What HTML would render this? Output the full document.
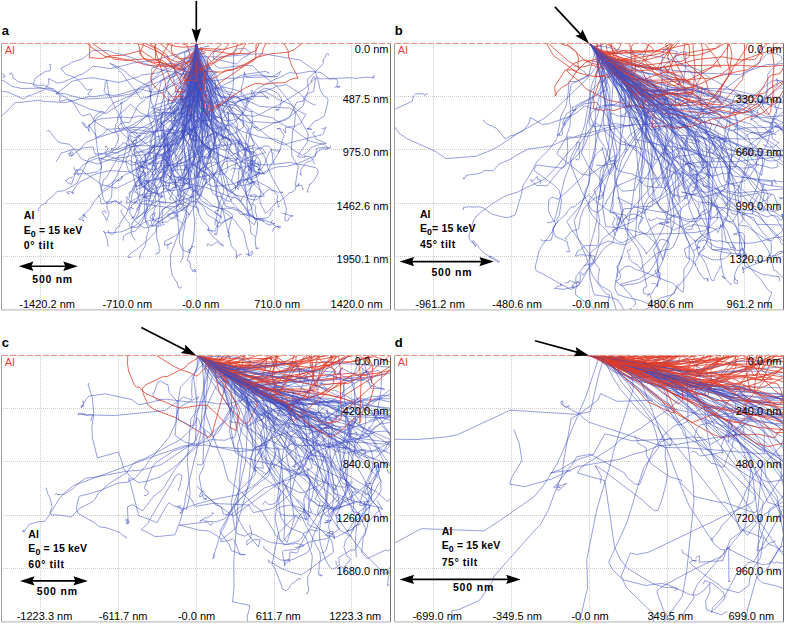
<!DOCTYPE html>
<html><head><meta charset="utf-8"><style>
html,body{margin:0;padding:0;background:#fff;overflow:hidden;}
svg{display:block;font-family:"Liberation Sans",sans-serif;}
</style></head><body>
<svg width="785" height="628" viewBox="0 0 785 628">
<clipPath id="cla"><rect x="1.5" y="43.5" width="389.0" height="266.3"/></clipPath>
<path d="M40.5,43.0V309.8M118.5,43.0V309.8M196.5,43.0V309.8M274.5,43.0V309.8M351.5,43.0V309.8M1.0,96.5H390.5M1.0,149.5H390.5M1.0,203.5H390.5M1.0,256.5H390.5" stroke="#cccccc" stroke-width="1" stroke-dasharray="1,1" fill="none"/>
<g clip-path="url(#cla)"><g transform="scale(0.1)" fill="none" stroke-linejoin="round"><path d="M1965 435l-3 68-49 298-58 170-72 99 8 62-2 18-4-2 2-7 49-8 34-23 75-139 44-53 83-123 70-60 27-12-16-4-51-28-14-22-7-39-26-60-36-41-12-53-5-4 23 8 17-11 32-5 4-7 13 9 0 6M1965 435l9 467 7 109-24 105-110 146-77 153-16 14-40 21-41 11 4 3-9 178-73 187-27 30 2 12-7 20-19 31-22 21-26 16-43 3-36 35-34 3-22 17-19 0 1 7 10 7M1965 435l0 157-5 44-63 194-60 124-101 111-26 14-132 23-59 39-72 33-79 77-50 30-190 47-176-110-53-79-69 22-24-17-87-136-49-12-72 17-5-4 10-43-23-36-9 11-8 1-3-6 12 1 1 5" stroke="#3f4fc0" stroke-width="5.5"/><path d="M1965 435l1 70-85 64 2 6-84 41-20 4-60-19-87-55-183-89-64-22" stroke="#e03c28" stroke-width="8"/><path d="M1965 435l0 23-22 118 2 118-25 417-26 170-1 24 9 63 108 228 255 304 35 19 36 13 10 14 34 19 26 45 7-1 4-26 27-26 35-53 38-34 29-41 2-12-18 10-74 23-53 5-23-8-2-29 10 6-1 7M1965 435l0 144 56 137 193 248 19 66 151 30 116 56 35 1 68 36 118 22 31 24 99 59 27 13 38 10 175 128 100 25 36 5 62 42-55-7-64 7-21 88-45 42-41 10-55 77 3 21-9 25 15 4 2 5-4-2M1965 435l0 164 11 60-7 96 19 219-9 119 22 58 15 25 20 329-33 116-15 200-5 25-18 57-40 14-32-55-35-34-13-5-148-98-25-118-22-51 27-26 3-43-24-43 18-4-5 13-23 17-15-5 11 10M1965 435l1 524 5 67 30 110 3 66-3 109-9 121-70 220-39 101-9 39-42 75-37 28-106 14-3-38 25-123 3-30 0-34-19-41-88-88-27-14-99-19-97-4-41 5-11-13 15-28 21-89-2 10-18 0-17 10M1965 435l0 56-21 200-35 136-12 70 32 87 127 136 12 2 23-7 96-47 130-88 23-26-4 20-39 26-15 4-73 51-27 23-54 63-66 53-13 54-1 15 32 94 45 81 39 33 62-57 32 42-16-6-74 2-25 14-23 22-19 62-10 13-14 10-66-9-19 8-3 5M1965 435l-7 364-17 69-75 182-41 227 26 302-11 196-1 193-10 99-98 60-39 16-155 116-79 20-20-1-29-19-68-60-35-57-13-13 6-25-1-30 16-1 12 17 9-6-6-1M1965 435l0 43-37 240-30 256-13 27-140 126-62 65-202 102-201 165-99 70-79-7-95 78 10 49-22 170 42 178 21 26 21 14 22-3 57-32 27 31 32-21-13 21-12 5M1965 435l0 114-15 109-12 135-17 135-30 121-116 88-64 63-181 138-124 101-63 59 4 41 55 178-4 214-35 90-47 32-4 23-26 23-117-82-19-3-58 4-21-5-1 8-10 7-25 10-24-2-6-22 5-22-28-38 7-4M1965 435l-54 221-14 32-113 192-36 113-15 10-24 35-1-8 32-24 73-37 94 115 76 56 13-2 49-30 0 9 27 40 2 46-141 10-43-10-40-36-67-8-90-35-95 5-31-7-21 2-5 5 3 0M1965 435l0 132 107 288 24 81 5 32 0 83-10 102-9 61-32 121-59 166-129 240-77 222-2-4 26-4 91 57 89 10 170 111 49 25 9 20-53-39-15-20 1-4 25-13 13 1 3 2-3 2-9-3" stroke="#3f4fc0" stroke-width="5.5"/><path d="M1965 435l0 95 53 219-42 85-42 127-211 8-16-12-37-52-15-51-5-41-108-350 28-28" stroke="#e03c28" stroke-width="8"/><path d="M1965 435l0 53-10 52-7 13-106 94-87 62-121 175 18 262-18 139-1 48 9 65 13 160 20 63 33 57 2 80-5 11 9 31 41 47 98 89 60 35 22 0 32 23 70 82 34 68 98 62 10 75-13 65-24-3 12-9-7 6" stroke="#3f4fc0" stroke-width="5.5"/><path d="M1965 435l-1 148-16 44-85 177-13 20-34 17-84-170-30-48-34-78-176-110" stroke="#e03c28" stroke-width="8"/><path d="M1965 435l-26 378-78 205-78 119-141 262-44 66-42 36-53 32-47 12-142 16 5 128 79 336 7 10 260 38 37 12 44 42 1 20 9 17 30-5-7 5-10-5 1-16-22-15M1965 435l0 232-18 93-31 109-1 48 58 83 23 69 93 87 124 75 59 24 55 8 89 49 189 59 149 22 102 46 90 70 80 46 51-35 32-45 58-22 97-21-4 3-45-23-52-18-9-28-27-30 9-14 10-2 5 4M1965 435l0 46-32 91-15 103-22 74-40 53-48 110-4 51 18 242-1 102 41 346 0 59-2 19-20 47-29 175-31 105-64 25-38 31-60 61-141 35-45 21-83 80-44 12-53 24-17 14-6 45M1965 435l0 130 35 442-48 473-5 107-41 165-17 112-62 94-79 63-45 21-80 57-28 63-5 21-33 19-32 51-3 1-9-38 12-9 29-79-39 21-10 16-5 14 25 16M1965 435l0 104 58 370 2 93 25 207 67 94 149 77 36 25 14 18-23 69-24 108 9 86-28 54-89 1-191 34-81 20-102-24 0-7-13 17-7 3-13 28 0 62-28 42-13 40-17 24-3 11 24 13M1965 435l5 98 34 317-73 170-56 97-15 35-18 23-28 81-123 194-73 16-84-3-22 40-43 37-22 10 5 10 4 46-73 117 5 63 29 77 86 40 65-26 69-21 52 1 5-12 3 23" stroke="#3f4fc0" stroke-width="5.5"/><path d="M1965 435l0 43 44 15 303 45 186-6 64-26 29-71" stroke="#e03c28" stroke-width="8"/><path d="M1965 435l20 272-1 38-19 118-14 19-39 33-49 65-51 42-31 18-39 60-36 27-90 3-15 70 2 18 26 33 19 99-8 459 17 26 12 42 45 46 73 89 57 43 27 8 42-51 11-57 21-55 5-10 4-1-5-9M1965 435l0 101 122 398 27 203 9 200-18 48-80 168-62 111-3 35-25 97-88 52-21 8-19 1-24 0-241-74-17-53 15-26 25-6-10-121 2-22-20-98 17-34 15-23 45-19 7-27 68-23 8 5 29-1M1965 435l0 107 9 179 18 176-2 33-31 146-106 198-55 148-25 51-15 23-92 92-84 28-10 34-21 39-95 164-5 45-28 52 119 91 11 29-26 87 3 50 107 18 39-9 36-33 15-5 36 2 65 62M1965 435l0 55-48 326-90 118-18 12 21 78 86 103 35 33 45 29 19 26 33-2 83-23 41-19 87-76 15-19 35-25 87-41 87-28-24 74-55 102-47 36-48 12-41 3-16-2-97-47-29-50-10-121-52-40 41 79 7 21 15 6 0 6 10 15-42 49 1 21 7 6-7-17 6-9M1965 435l0 60-17 111-39 112-33 116-7 84 2 236-14 116-18 46-105 214-13 18-42 38-32-79-9-34-4-52 9-57-48 6-30-5-98-91-159 1-197 17-36-1-39 48-72 37-5-23-64-89-7-1 4-5-5 3M1965 435l0 22 11 30 4 279 50 25 51 15 98-1 83-22 80 0 245-35 119 20 73-4 28-50-78 51-265 12-22-59 1 23-16 97-11 31-7 82 27 23 8-1 79 24 27-43-30-55-7 31 5-1-8 15-2-4M1965 435l-18 174-24 69-12 22-8 32-12 85-4 177-31 242 2 48-26 69 22 50 73 83 94 260 35 71 0 15-30 79-142 253-31 35-40 99-44 51-128 67 5 11-1 24 49-8 14-15 10 0-45 26 5 10 1 27M1965 435l0 164-34 253-24 73-31 48-72 147-79 98-91 147-217 305-169 79-249 199-56 66-42 71-88 84-13 17-11 2 51 21-13-13 0-13 17-29 2-11-15 10 32 17 5 8M1965 435l-17 142 39 94 10 56 73 81 90 233 28 56 106 39 250 27 52-18 104-56 71-30 260-163 39-31 73-72 29-15 28 11 312-12 51 8 29-7 83-7 52 5 8-21 9 9-8 18-11 2M1965 435l1 405-39 68-12 34-19 6-45 29-113 49-27 4-155 56-67 50-38 36-143 85-92 40-284 96-71 31-70 74-72 61-28-2-3-26 6 8 10-10 1-12 5 37 16-1 4-21-11-12 2-17M1965 435l0 29 198 199 33 18 65-3 59-13 125-11 83 4 69 69 166 129 85 101 71 93 158 278 4 30-10 67-57 79-38 62 50 7 24-3 4-8-9-1 51 3 36 31-2 23 19 23M1965 435l1 169-61 207-55 276 14 36 31 227 83 397-3 31 6-44 84-43 49-32 42-15 304-167 87-25-37-88 2-21-7-17-23-32 27-11 20-19 10 13 23-4 17 4M1965 435l-7 124-77 57-25 24-18 66-36 76 43 426-27 92 6 40 137 222 180 192 56 84 29 26 116 75 49 22 45 4 70 28 44 7 15-4 128-106 19 14 34 4 38 17 11-6 16 5 18-3-6 4 6 8M1965 435l0 106-10 73 0 32 28 351 38 89 11 56 51 141 47 155 12 72-12 43-1 39-9 12-119 105-37 61 18-171 3-102-11-71-40-92-18-26-162-93-13-42-51-24-12 18-15 11M1965 435l-12 337 14 150 28 52 33 33 137 36 133 24 50 20 94 58 87 84 22 29 105 87 69 50 55 33 65 23 48-22 328-82 14-13 12-38 14-22-27 13-18 0" stroke="#3f4fc0" stroke-width="5.5"/><path d="M1965 435l-24 193-22 110-46-23-120-27-60-31-140-59-144-92-183 47-109 4-97 28-127-8 7-142" stroke="#e03c28" stroke-width="8"/><path d="M1965 435l3 24 167 315 20 46 1 138 64 241 8 48 83 79 77 104 18 50 27 27 9-7 103-23 80 8 30 42-151 42-151 74-42 14-81 42-68 28-51 13-15 2-68-28-54-44-13 0-14-12-21-8 0-10-28-11 18-2M1965 435l0 157 45 318-88 121-45 111 42 37 46 26 167 81 20 2 168-48 30-18 96-108 42-96 31-50 66-35 158-56 29-18 26 2 64-16 136 89 61 71 62 34 37 14M1965 435l-4 32-25 33-400 102-215 29-83 24-135 30-174-24-26 27-77 50-200 84-53 9-87-45 3 51-31 43-30 28-14 1-92 39-45 13-42 29-153-68-48-7-35-12-23 11M1965 435l-3 103-57 222-69 126-38 59-125 162-121 126-141 181-224 75-45 8-93 29-161 63-118 243-126 75-73 7-53 55-50 38-4 22-20 6-32 19-19 20-13 39M1965 435l0 99-32 54-101 285-4 14 2 29-13 31 105-156 13 12 5 51 11 32-5 13-67 81-61 17-56 41-39 50 3 7 13 19 10 0 32-39-12-14-3 8 6 24-18 10 1 28-10-4-21 9M1965 435l-1 149-51 206-21 405-22 86-52 116-32 35-28 43-35 34-71 22-159 63-183 125-209-13-160 39-151 81-72 97 20 15-7 0 0-13-38-9-24 4 2 12 25 5M1965 435l-9 132 248 2 310-27 118-4 356 60 18 8 97 64 50 46 33 109 13 64 29 60 48 35 5 22-35 149-62 45-26 5-21 14-58 72-3 1 1-6 41 7-45-5-3-8 6 1-1 6M1965 435l-17 70-140 108-27 15-199 22-66 37 3 69-16 238-8 73-16 77 40 119 31 128 13 29-35 53-41 80-21 30-49 46-60 0-34-7-22-15-72 13-109-19-60 0-40-9-12-9-19 11 3 10M1965 435l0 92-9 164-31 294-37 127-52 232-19 42-27-6-15-18-64-42-76-71-77-54-147-64-105-88-125 114-8 58-3 15-13 14-7 47 5 23 27 44 1 38-30 75-23 13-21 2 16 12M1965 435l0 146-94 207-64 224-246 157-57 80-126 112-40 50-20 43-40 112-16 9-3 52 24 71 14 25 34 23 123 63 49 13 50 27 26 46-12 25-7 6-151 22-49 38-32 18-11 13-53 15 6-42 8-10-9-11-15 1" stroke="#3f4fc0" stroke-width="5.5"/><path d="M1965 435l1 78-3-29 6-49M1965 435l0 50 18 91 8 88-13 44 176 12 82 0 36-13 42-4 49-26 112-48 147-89 11-53 25-52" stroke="#e03c28" stroke-width="8"/><path d="M1965 435l0 80-62 276 21 81 14 20 2 27 33 32-60 41-58 32-103 208-77 118-100 190-73 53-116 41-71 19-47-29-51-20-155-48-5-17 2-29 24-23-26-29-3 15-4-3M1965 435l0 245-8 40-123 327-10 45-7 77-99 222-83 137-10 28 34 51 11 53-13 48-41 55-5 18 3 36 45 63 35 61 64 85 34 37 11 23 6 5 25 3 8-21 10 6 19-21-11 38" stroke="#3f4fc0" stroke-width="5.5"/><path d="M1965 435l0 140 18 91 1 82 12 33 18 21 4 17 26 32 28-109 4-134 7-31 37-50 101-92" stroke="#e03c28" stroke-width="8"/><path d="M1965 435l4 374-7 36 1 21 69 171 99 270 16 71-4 75 2 103 21 44 12 58 28 48 129 128 50 63-5-10 18-34 36-119 10-51 69-33 7 0 4 8-32 43-32 28-2 26M1965 435l0 158 9 247 7 75 69 92 16 45-1 47 8 38 19 48 88 74 71 26-70 44-32 1-53 26-39-43-80-66-70-121 19 115 37 50 14 38 13 11-8 29 5 25M1965 435l1 107 48 118 202 280 53 44 85 217 24 43-14 71 5 16 74 159 34 90 75 47 14 18 110 5 228-27 86 23 44 3 123 28 23 21-1 39-38 65-33 39-12-1-3 23-21 49 6 10-3 2 10-10M1965 435l0 145 58 153-24 203-5 108 8 53-1 25 28 78 103 127 56 29 220 85 25 17-33-69-15 41 28 15 30 30 87 51 5 0 32-32 82-35 43 5 23 26-1 35 20 9-13 4 10 75 8 11-4 0 0 9 7 5M1965 435l0 37-19 55-45 62-86 176-34 43-98 72-42 43-100 24-133 40-65-95-70-85-51-72-34-31-7-14-83-59 15 9 41 15 105 63 21 28 104 65 111 54 8 57-14-33-22-30M1965 435l4 68 51 228-7 159-26 86-14 107 12 108-19 30-86 197 12 121 2 132 37 259 4 201 14 83-14 193-48 145-13 54 24 8 7 60 11 20 35 21 1 7 5-2-4-20-6-10-12 20-16 8M1965 435l-13 120-29 143-5 64-19 95-27 310-28 26-117 189-46 170-49 81-127-2-68 69-85 170-31 73-6 51-41 117-13 32-53 76-9 18 0 25-32 16-24 53-18 11-28-3-12-14-3-14 9-13M1965 435l2 161 41 46 124 188 47 57 84 51 45 8 109 46 86 27 97 46 297 16 39 21 20 30-13 136-16 33-11 160 2 97 64 107-29 191 7 5 53-7 22 37-11 2-5-6M1965 435l1 78 35 364 22 109 73 155 253 222 92 116 59 52 38 15 13 17 14 9-3 14-25 37-50 47-1 36 9-44 42-108-9-12 3-11 6 2 2-3-1-14-14-49 2-10 17-5 0-4M1965 435l0 36-111 185-59 62-103 78-32 115-38 112-60 243-29 351-10 48 0 98 64 209 13 68-7 132-11 50 1 37-18 24-7 29-33 41-71 68-87 73-61 39-23 26-1 16 26-4-2 8M1965 435l-1 367 49 209 6 74 47 70 53 60 47 42 34 51 16-25-3-4 16 11 46 7 20 8-2-23-12-33 5-18-8-116 13 82-40 98-32 94-26 10-1 7-3-20 2-11 4 0M1965 435l-13 129 36 119 30 125-9 115 48 261 14 34 6 142-8 16-98 120-232 147-30 11-26-11-29 12-42-2-35 36-47 3-29 1-113-35-10 20-13 12 33 21 54 12 19 116-36 27 26-2 12 19 7 1-17 13M1965 435l37 179 148 416 15 30 76 196 112 179 6 53 36 106 29 106 11 71 1 71 31 118 46 104 10 63 17 49 9 17 19 13 7 10 0 53-14 85-7 22-1 54 11 62-4-9 7-3 25 3M1965 435l6 241 32 118 16 97 11 117-2 58-39 356 10 107-11 94-6-6-5 2-96 80-116-2-48 14 22-14-3-38-17-14-36-61-19-18-50-11 4-13 3 2-19-7-51 21-17 0 3 7M1965 435l-6 96-14 89-18 64 11 89-6 45 4 80 15 71 7 116-10 61-9 254-28 88-26 194 0 61-3 25 20 98-45 86-53 79-92 105-18 16-131 84 4 138 10 42 8 15 8 43-5 11 11 20-11 25-9 3-1-4-8 1-1 10-16-1M1965 435l0 73 6 27-93 70-307 124-137 20-25 0-19 18-201 58-257-48-104 10-105 26-147 115-41-39-31-8-24 9-3-8-57 1-72-18-13-19 8-38 14-33 105-64 34 0 7-15 1-40-2-16-7 5M1965 435l0 55-18 226 16 30 59 77 20 34 42 40 90 53 68 29 118-1 44-10 90-31 151-22 90 47 28 23 156 64 60 58 79 37-53 89-69 35-34-2-48 10 3 52-7-3-5-12-14-16 2-8M1965 435l2 190 26 275 20 117 345 3 73-24 48-5 25-15 57-77 16-12 173-95 54-19 61-35 28-11 40 1 39 8 129-23 109 12 88 68 18-5 50 4 13 24-9 27 2 25 12 12 13-14 5 0-17-2-41 10" stroke="#3f4fc0" stroke-width="5.5"/><path d="M1965 435l0 226 91 246 1 58 155-148 183-123 87-70 91-51 118-32 195-21 48-18 86-67" stroke="#e03c28" stroke-width="8"/><path d="M1965 435l16 115 24 51 113 188 1 8-18 166 23 196-44 179-46 162-11 19-212 114-70 6-92 30-42 27-69 56-12-22-58-56-69-113-9-24-29-29-56-131-6-23 38 20 13 1 56-17-22-4-4-10-14-8-13-22" stroke="#3f4fc0" stroke-width="5.5"/><path d="M1965 435l-8 272-25 238-3 68-16 109 2 37-176-317-24-31-64-150-27-21-8-14-62-36 2-75-5-40 6-40" stroke="#e03c28" stroke-width="8"/><path d="M1965 435l0 27 8 29 204 501 2 13 73 157 61 65 42 33 75 116 58 111 121 439-12 67 12 54 46 89 61-59 60-68 14 12 109-96 14 0 36-22 10-37 29-18-10-5 9 1 4-5-5-10M1965 435l-16 415-6 33-37 37-134 181-56 57-75 66-80 86-57 77-4 20 23 48-79 196-12 45 20 81-19 38-17 10-6 13-28 20-28 7 6-3-1-9-22 14 4 21-26 24-21 9-6 15 7 9M1965 435l0 27 68 145 119 231 65 179 27 109 28 79 68 94 50 82 1 20-10 57 3 61-27 112-11 71-29 99 4 25 31 30 5 38-79 59-15 36-39 65-28 161-37 66-1 27-4 4-81-13 13-14 10 15 14 7 12 17-2-9M1965 435l-2 130 26 185-63 137-33 104-19 123-16 54-20 147-15 181-2 87-23 55 19 94 23 46 40 48 41 63 162 127 29 34 48 22 100 29 61 43 8 14-15 27-33 143 6 2-2-8 18 17-13 20-11 9 2-5M1965 435l0 65-33 223-97 374-61 166-19 83-53 164-34 214 58 102 111 4 216 43 234 90 66 14 59 37 40 70 38 54 20 5 40 39 23 6 32-1 25 8 7 10-3 11M1965 435l20 336-7 68-43 125-164 33-107 11-70 30-17 1-68 37 78 21 30 16 9 11-17 67 10 90 17 47 29 42 8 27-3 64 17 14 4 21 10 9 5-7-7 17-5-10M1965 435l5 322 8 53 4 99-18 206 69 181-15 165-44 389-2 7-31 38-25 45-84 270-129 342 4 46-3 56 19 100 42 65 28 64 15-6 7-14M1965 435l0 194-20 65-14 73-50 196-128 284-26 23-48 39-169 102-104 40-85 18-91-45-14 25-128 92-104-5-32 8-23-75-103 11-33 22-23-2-22-11-138 42-25 55-22 23 7 10M1965 435l0 43 87 122 141 236 80 86 58 89 95 110 11 148-83 60-68 20-63 41 8-7 36-3 24 5 18 41 1 26-6 8-53 49-56-29-102 9-154-126-67-34 8 10 12 1M1965 435l0 229-21 99-7 53-3 135 20 294 5 181-20 48 0-3 88-7 54 19 45 25 29 35 9 16 5 24-11 12-71-43-8-10-19 1-7 8-1 12 1-4-11 6 0 65-6 3 1 5 83-9 27-12 18 15-2 2-6-3 8-12M1965 435l0 356 12 125-51 342-27 122 89 36 265 163 132 14-2-8-10-2-27 25-92 5-54 59-41 55-31 32-52 38-49 74-16 87-19-2-11-8-18-28-3-14 7-9-5 3M1965 435l4 235 10 63 23 70 26 55 53 163 50 193 36 54 139 71 105 105 25 34 18 41-3 36 30 93 23 52 65 25 48 7 11 0 62-40 22-49 46-66 44-76 18-91 22-53-37-61-15-13-20 6 25-5 11 4 2 6M1965 435l0 125 32 280-5 35 19 42 5 27 5 119 14 20 51 47 44 32 96 22 77-77 84-100 131-44 127 0 9 2-5 2 16 9 22 7-43-29-17-21-36-15-3 3 15-18 44-20 32 4 37 13 64 34 34 56 1 17-17 67-16 17-27 10 34 2-1-8M1965 435l-1 221-11 64 0 42 65 240 33 155 53 369-50 166-50 133-27 115 6 14 30 51 77 52 57 8 69 23 50-7 57 5 36 16 18 1 26 40 83 5 34 12 38 26 64 1 55-11 20-17 17-39 11-11-3-18-9 3M1965 435l5 121-120 132-93 46-60 18-88 52-1 28-71 291 69 333-82 219-16 29-91 60-63 25-185 93-47-7-52-18-55-8-44-38-134-90-22-28-66 10-13-35M1965 435l-26 171-16 72-27 56-106 156-94 188 11 21 14 154 24 96 30 89-160 25-267-8-33 10-263 107-33 10-46-1-76 30-66 39-81 91-35 102-24-8-37-28 5-8 11-1 24-20 25-1 4-11M1965 435l0 235 69 224 12 66 1 46-40 188-46 159 49 152 1 22 23 108 110 162 110 263 23 8 66 8 120 75 42 14 33 17 38 9 72 28 14 17 34 14 13 2 5-38 18-14M1965 435l-22 254 101 178 111 119 168 148 11 18 35 28 125 48 55-11 25 0 130 12 63-6 71-15 27-13 165-134 31-101 26-66-16-98 153-148 10-22-7-21 8 1 0-15 19-21 7-26 12-5 6-7 11 23" stroke="#3f4fc0" stroke-width="5.5"/><path d="M1965 435l-12 484-204-3 18-55 24-27 42-63 23-20 50-112-6-24 13-20-41-142-58-18M1965 435l0 30-142 7-72-9-103-28M1965 435l0 40 88 52-132 49-58 3-66 10-67-36-81-79-48-39" stroke="#e03c28" stroke-width="8"/><path d="M1965 435l4 197-77 142-6 41 27 322-1 82 15 81-4 47 28 84-37 63-37 22-212 238-25 18-21 10-53 8-68 22-107 47-21 4-24-30 1-5 57-49 30-35 14-7-10-4-2-11 5 4 5-4-4-1M1965 435l3 180-67 249-9 48 0 146 7 37-70 143 70 130 26 67 13 67-2 71-13 51-58 113-8 28 16 27-28-4-82 36-43 3-25 6-43-4-12-9 12-1 29-18 19-31 17-13 16 10 21-1 31 10 3 5-8 23 16-2 20-29M1965 435l0 277-12 67 2 41-13 116-5 320 27 136-22 142-2 75 8 192-4 45-4 7-18-15-31-38-32-242-64-103-40-34-38-25-43-16 15 58 6 52-47 84-40 47 0 23 26 72 19 39 15 12-8 15 6-5-10 3M1965 435l9 382 130 249 95 219 39 121 29 66 25 33 39 25 59 23 53 44 50 12 61-2-26 108 17 36 15 9 12-30 25-38 11-52-5-26-49-84-26-14-30 7-30-17-8-14 24-27 7-5 13 0M1965 435l0 292-15 212-27 108-93 23-42 34-135 55 15 23 78 67 28 17-33-28 15-78-70-116-5-124 68 93 76 38 21 41 43-39 12 16 11-3 12 6 7-7 6 2-2 9M1965 435l0 61 41 110 33 142 43 65 30 25 131 179 67 114 31 7 23 25 101 84 17 25 0 32-19 37 2 29-16 147-63 202 3 41-5 29 8 28 72 131 14 63 40 53-2 25-26 13-21 28 1 7 0-5-7 5M1965 435l3 192 20 52 12 64 19 422-7 88 15 264 1 80 3 32 26 67 10 144 34 8 19 14 98-4 104-17 217-77 40-30 62-82 34-93 33-62 31 2 41 13 14-15-1 23-8 4-4-9" stroke="#3f4fc0" stroke-width="5.5"/><path d="M1965 435l0 107-45 79-32 34-32 21-21-16-254 2-128-14-109-35-68-14-97-19-128-16-151-100-24-29M1965 435l0 115-67 66-242 47-115-28-100-47-40-63-8-58-15-32" stroke="#e03c28" stroke-width="8"/><path d="M1965 435l0 67-13 197 11 220 11 39-6 18 9 133-3 51-6 24-58 148-203-37-197 19-47-1-78-14-41-3-68 10 14 130 12 53 26 50 52 42-21 45 37 37 29 7 8 10-3-7-31-16 6-19 48 51M1965 435l-4 54-72 409-21 66-41 66-7 30-2 101-12 67-34 42-6 20-97 148-100 117-16 97 1 79 42 51 7-1 13-13-37 25-132 165-33 61-21 76-6 43-64 91-7 42-2 57 4 19 22 41 16 16M1965 435l0 227-10 184 16 110-27 49-76 93-71 94-19 31-15 37-54 35-128 223-36 77-100 66-44 13-43 42 7 49 124 101 52 31 30 40 38 29-3 2-17-7-18-22-6 0-12 13 12 8M1965 435l4 238-17 97-15 177 2 63-7 78-29 69-103-28-105 6-155 26-159 1-67 16-89-7-211 16-73 22-39 39-12-5-2 64 5 9-10-26-29-33-12-25-19-8-2 4 38 47 17-4 53-45 4-31 16-31 39-35 27-16 20 2M1965 435l-2 264-9 82 52 218 51 131 58 102 52 53 94 129 57 114 77 77 41 24 139 99 70 8 74-51 68-17 80-4 112-30 164-72 29-42 47-31 21-2 26 7 4-11 34-4-2 4 5-7-6-13 8-5M1965 435l0 137-36 178-45 159-13 104-42 188 0 94 73 299 17 29 81 72 115 85 193 128 73-61 111-66 16-27 19-138-59 182 24 43 34-20 14 0 33 22 9 0 5 6M1965 435l0 168 11 204 33 207-2 36 16 83 23 168 46 175 46 97 59 84 68 130 25 82 62 97 106 109 21 34 18 41 76 47 82 5 17 8 1 6 30 5 45 18-11-5-14 5 41 27 26 10 8 8 5-23-55 11-13 13-10 30M1965 435l-3 414-7 51-72 320-19 52-76 137-67 94-30 57-19 116-20 53-4-5 2 9-15-48 5-30-9-72 24-57 205-201 56-49 3 22-9 21 14 40 6 48 13 3 7-5 11 4M1965 435l-5 162 41 73 130 153 76 70 51 20 84 19 35 28 23 44 55 64 60 35 11 110-65 313-12 39 6 95-10 64-62 110-35 48 28-15-1-48 4-4 46-16 105-8 49-30 20-18-2-13-10-4-9 17-6-3" stroke="#3f4fc0" stroke-width="5.5"/><path d="M1965 435l-1 130-6 43-57 154 51 57 6 0 154-30 50-19 78-58 27-12 75-8 86-26 107-58 22-23 4-150" stroke="#e03c28" stroke-width="8"/><path d="M1965 435l33 298 29 165 25 56 39 62-49 117-187 172-79 57-44 41-182 140 8 7-14 52-6 5-1 43 18 36 41 39 24-6 18 9 46 28 70 57 39 63 20 111 10 20 79 47 47 18 18-2 11 7 9 42M1965 435l5 30 63 111 32 89 50 313-5 119 5 26 2 89 24 164-8 99-2 15-17 22-6 20-22 26-127 85-216 21-12-8-7 5 9-35 93-116-3-12 8-1M1965 435l0 188-24 161 84 221 7 57 16 29 1 15 0 148-23 71-11 11-22-29-10-26 9-14 12-10 65-138 31-125 63-115 59-14 14-15 106-54 60-40 75-16 174-26 11 1 24 16-1 3 4-10-3-5M1965 435l0 84-21 17-77 56-135 88-334 192-134 132-185 117-14 13-168-41-53-27-98-38-300-177-77 3-49-17-123-16-20-8-13-13-37-20 3-9-5-32-10-9-8 0-14 11 6 6 6-8M1965 435l0 83 9 41 32 83 23 110 5 52-6 93 3 142-35 145-39 69-135 138-335 257 11-5 16-19 71-40 20-6 32 2 62 91 44 89 14 46 0 60 8 13-25-9-37 42-47-29-24 14 4-4-6-2M1965 435l0 410-11 120 24 8 9 12 76 51 18 90-16 59-24 21-27 43-1 50-23 32-70 62 3 6 22 4 25-1 24-21 37-14 43 5 25-13 10-26 3 7 26 4 0-4M1965 435l0 75-11 39-8 68 136 62 68 55 17 33 103 275 129 156 59 80 72 124 31 36 81 121 28 70 7 41 47 110 93 167 23 51 24 93-14 84-1 28 23 7 10-4 9-26 14-15 28-7-29-1-55-20-22-2-10-6M1965 435l0 162-153 534-56 305-50 164-82 213-35 78-10 10-87 189-137 102 56-42 39-42 25-37 63-44 23-1-10-58-27-14-7-2-33 13-56 4-13 9-8-12-7-1" stroke="#3f4fc0" stroke-width="5.5"/><path d="M1965 435l0 62 5 38-41 133-79 111-8 3-96-89-120-88-25-10-76 4-71-10-208 15-108-14-67-53-146-102" stroke="#e03c28" stroke-width="8"/><path d="M1965 435l0 99-34 185-160 33-144 49-116 48-301 91-64 14-87-7-136 22-30-4-233 60-211-10-71-13-175 23-43-2-21 13-25 33-88 82-43 19M1965 435l0 36-146 53-70 53-347 343-24 5-230 99-29 20-69 79-88 59-11 27-4 57 30 253 38 161-36 37-109 20-123 2-11 5 30-46 7 31 13 14 2 10-11-7 2-6M1965 435l35 308 3 97-32 156-10 73 64 108 91 122 48 34 106 52 95 92 25 74 29 62 62 22 56 8 89 70 2 17 8 10 9-3-60 3-49 16-33 41 19 20-7 12-32 31-4-8M1965 435l2 98-7 109-19 182-66 299-12 102-32 78-204 263-11 69-98 161-77 66-70 31-28 29 7-3 64 36 67 30 25 5 1-19-9-22 18-23-36-15-90-107 3 21 6 9 31 0 0-16 6-5M1965 435l0 142 18 58 75 168 88 123 77 46 114 59 151 163 26 45 67 72 128-64 34-21 17 4 126-55 14-10 65-141 47-11 21 2 11-45 6-8 32-27 54-21 19-123-13-25-12 6-8 23-9 7-2 24M1965 435l-1 316 14 243-4 160-44 22-262 212-51 35-117 57-226 87-27 6-116 9-149 56-13 0-144-42-18-13-22-41-89-99-91-14-20-9-33-35-54-73-19-9-12 14" stroke="#3f4fc0" stroke-width="5.5"/><path d="M1965 435l-2 284-90 64-51 118-22 37-69 76-58-23-14-10-35-42-61-55-38-49-14-34-4-25 10-27 74-109 35-100 63-105M1965 435l0 30-39 186-55 140-1 75-39-162-158-60-69-17-121-11-39-28-37-37-10-19 43-97" stroke="#e03c28" stroke-width="8"/><path d="M1965 435l-4 41-45 138-87 196-322 147-44 30-81 64-87 175-60-4-11 14-7-4-11 4-28 33 43 62 151 134 83 85-5 22 29 135 3 92 9 62 10 0 31-57 37-23M1965 435l0 184 6 159 13 198 16 36-48 24-189 65-23 17-6 48 62 54 76 48 71 52 57 81 124 107 50 35 104 38 109 69 30 66 10 37 38 45 33 27 68-16 146 78 57 58 8 21-8 28 13 73 18-6M1965 435l0 85 20 43 4 82 16 47 18 78-4 49 14 97 53 229-16 13-79 87-134 109-23 23-22 4-292 100-103-77-164-137-24-39-143-288-18-141-20 40 3 21-11 55 26 25 35 16M1965 435l0 191-13 102 73 253-41 48-41-30-45-66-104-62-53-42-10-49 21-35-3-64-12-27 69-3 38 44 1 17 122 39 37 16 23-31 21-42 55-21 3 1-7 9-33 26-25 12-11 15-9 19-7 51-5 3 12 14" stroke="#3f4fc0" stroke-width="5.5"/><path d="M1965 435l-3 40-46 86 20 39-58 31-58 15-9-2-4 14 22 35 9 0-65-18-239-199-76-41" stroke="#e03c28" stroke-width="8"/><path d="M1965 435l-1 151 56 94 37 53 41 49 24 17 11 57 45 51 23 51 8 7 53 5 97-3 21 8 71 59 36-25-77-90-85-28-90-20-44 16-43-6-70 34-43 0-10 10-31-9-131-130-11-7-13 3 19-23-3-36-20-33 0-10 18 0 8 19 2-6-16 1M1965 435l0 225-73 595 10 89 19 71 2 34-12 65-77 216-20 67-15 74-40 129 27 295 11 48-5 44 3 38 25 64 13 15 67 23 1-25-14 7-3-13 38-17-5-12 21-4 8 7M1965 435l0 193-5 85 23 187 0 65-63 195-6 49 5 26-24 101-9 10-63-2-43 24-8 44-31 20-28 37 6 42 29 23 12 54 15 31-5 97 44 79 29 39 11 5 23-6 7-6 16-50-11-46-24-40-1-13-9-6-4 2 27 2 10-4M1965 435l28 312 128 260 10 112 11 223 24 124 36 274 6 10 30 166-54 155-19 104-17 68 27 24 22-1 38-54 92-43-50 32-66 30-36-12-11-24M1965 435l-7 122-126 412-42 85-24 61-41 158-47 108-1 79 14 68-58 175 3 223 23 105-54-8-122 92-20 24-7 59 37 56 107 7 14-3-1-8-15-17 7 8-9 2M1965 435l-4 127 4 46 17 103 22 46 2 18-13 83-44 188-41 102-44 89-90 115-56 84-28 55-1 44 16 107 9 22 82 335 19 48 33 40 21 36-43 260 1 52-5 9 9 32-1 90-14 37-13 17" stroke="#3f4fc0" stroke-width="5.5"/><path d="M1965 435l0 48 283 10 198-58" stroke="#e03c28" stroke-width="8"/><path d="M1965 435l-2 26-41 159-30 162 34 301 40 61 84 94 112 83 100 54 212 67 12 18 20 137 8 121 8 39-4 16 3 48-20 70 0 19-24 50-2 24-9 22 12 103 9 27 10 100 10 28-2 44 8 27 29 22 8 11M1965 435l-1 101 78 285 3 34-114 114-210 332-93 71-148 158-69 59-15 23 38 91-52 97-54 74-5 28-24 42-9 41-7 10 46 33 47-1 2 7 18 18-6 23-14 3-10 11 6 9 21 3M1965 435l0 51-48 234 24 55 40 133 133 337-172 36-72 35-37-6-27 18-83-2-97-22-175 31-165-14-49-37 1-4-28-43 2-84-8-33 10-36-3-59-9 11 21-13 2-6M1965 435l4 115-4 81 28 134-16 156-22 65-18 138-3 31 13 124-88 175-55 93-45 130-20 24-30 67 55 81-1 26-31 0-43 28-82 29-28 3-40-4-44-28-10-67-24-28-13-5-12-23 7-14 17-6 12-14 15-8 22-28M1965 435l-1 74-8 100-70 231-27 97-12 64 4 90-8 225 4 37-12 66-66 130-71 92-69 55-50 54-61 54-42 1-32 11 3 259-5 42 10 84 32 79 5 31-14 17-9 39-11 89-50 79-8 58M1965 435l2 298-6 5-16 238 7 57-1 33-34 155 60 139 69 97 44 41 7 14-14 19 4-11 17-6 39-24 93-34 50-6 34-12 64 2 62 58 67 22 13 67-2 19-39 31-6 8 2 15-59 10-54 22-40-12-8 4-3 12-9 1M1965 435l-48 358 24 214 14 54 26 160-69 205-12 25-14 60 3 53 21 68 26 59-91 70-3 12-27 12-14 14-19 10-1-18 9-14 28-23 84-157 48-66 94-83 77-48 37-40 9-15-1 23-19 7-22-2-45-25-7 12M1965 435l0 85-22 55-21 93 29 13 118 34-15 28 63 117 35 86 32 51-47 48-8 28-18 9 23 50 140 259 49 24 44 49 28 41 36 32 70 82 10 20 38 3 7-8 15 0 13 8 6 7 8 39-18 8 10-4 2-6 2 13-10 4-9-10M1965 435l0 227 45 239 25 260-21 332-14 76-22 52-23 187 1 210 5 42 46 118 17 29 58 53 3 48 48 64 29 21 74 66-35-15-33-26-38 33-25 3-13-11-16-4-5 13 1 10" stroke="#3f4fc0" stroke-width="5.5"/><path d="M1965 435l7 131 65 305 17 50 34 170 18 12 22 2 33-18 22-30 4-14 20-2-9 11-21 7-63 6-20-57-64-66-13-22-83-194-42-62-37-41-24-15-71-59-38-15-9-51 12-48" stroke="#e03c28" stroke-width="8"/><path d="M1965 435l0 120 7 71-30 151-183-56-87-8-53-12-135-54-67-22-76-41-116-38-73-12-67-28-156-2-93 77-32 16-89 27-35 25-74 35 53 60 65 21 39 19 67 65 13 23 28 28 43-5 3-6-3 14-30 28-5 12 19 10M1965 435l-4 139-7 29-52 114-30 91 10 81-18 63-109 120-26 49-173 188-56 41-112 61-67 61-41 51-53 26-38 6-116 206-22 31-15 2-25 105 9 16 49-51 82-61 48 1 16-13 0-25 7-7 4 13 4-1M1965 435l11 71 33 69 47 165 15 90-13 171-9 24-13 70-45 109-41 116 2 20 13 101 14 56-2 7 29 24 56 59 6 2 42-19-1-20-71-93-88-142-19-51-2-32 11-49-4-8-1-23-88 5-62 43-36 9-29-2-68 7M1965 435l0 16-32 6-88 69 4 34-12 75-17 46-213 133-49 49-34 27-22 66 9 57 32 85 42 157 61 104 80 269 17 31 14 57 83 77 95 73 18 6-33-6-34 19-17 0-57 21-9 10 106-46 21 9 1 20M1965 435l13 122 77 202 33 234 67 241 12 95-20 101-55 42-171 77-20 29-6 25-100 36-134 74-63 92 38 70 2 25-9 13-19 13 5 20 13 16-44 42-6-1-2 6 11 11" stroke="#3f4fc0" stroke-width="5.5"/><path d="M1965 435l0 12 52-12M1965 435l1 147-12 39-16 100 83-39 45-29 157-131 56-71 5-16" stroke="#e03c28" stroke-width="8"/><path d="M1965 435l-3 110-23 87-99 284-37 72-60 75-91 98-349 169-36 93 1 29-41 175-66 145-29 47-11 44-5 107-45 65-3 27 11 46 13 25-19 53 0 14-8 6-8-23-36-61 28-16 10 22 7 6M1965 435l-11 397-48 347-30 99-9 91-69 106-19 13-58 62-92 125-64 109-46 115-36 146-45 136-26 55-21 27-20 9-21 3-47-4-13-20 11-9-34-38-51-75-7-20 13-16 3 3M1965 435l0 29 17 97 69 209 58 147 34 182 71 89 68 127 8 30-37 234-82 226-12 146 57 123 9 11 87 364-1 8 46 47 6 15 2 61-3 6 17-34 34-7-1-7M1965 435l2 61 13 102 121 236 116 323-7 116 16 101-28 65-15 54 2 59-11 131-23 56-35 44-133 125-150 128-41 9-50 20-61 2-53 21 0 31-9 51 13 83 8-8-5 5" stroke="#3f4fc0" stroke-width="5.5"/><path d="M1965 435l0 67 10 44 69 190-3 113-14 115 19 90 13 94 28-20 35-37 322-207 94-45 55-5 39 9 103-13 102-3 17-4 46-26 59-17 21 2-18-46-44-76-33-96-4-57-31-54-16-18" stroke="#e03c28" stroke-width="8"/><path d="M1965 435l0 29 60 194 60 104 36 101 14 84 68 133 25 27 27-49 73-167 7-82-5-86 9-209 36-27 83 0 49 40-29 29-45 18-67 67-185-44-44-6-7-45 13-35 52-14 0 9 8-3-1-8M1965 435l-2 203-99 184-167 152-28 80-41 74-19 105-31 33-51 87-38 165 8 31 51 112-19-3-49-34-111-17-18 15 14 85 19 54 25 44 8 52 48 44 15 9 109 28 36 23-20 7 22-1 9-7M1965 435l0 123 9 128 17 63-4 28-73 125-164 199-116 107-30 51 18 123 19 33 15 1 16-18 48-37 72-46 103-22 43 29 33 30 119 137 20 13-54 134-53 63-28 43 46 45 41 4-9 2-4-40-22 9 1-8M1965 435l0 243 16 151-11 28 23 202 21 43 4 18 23 121 13 147 49 201 89 482 161 139 25 41 45 53 16 29 29 134 18 41-3 50 35-9 13-19-11-20-33 40-27-13-3 2" stroke="#3f4fc0" stroke-width="5.5"/><path d="M1965 435l7 239 11 22 7 5 17-20 145-66 42-36 92-29 111-15 17-33 47-67" stroke="#e03c28" stroke-width="8"/><path d="M1965 435l0 68-7 33-82 142-62 76-188 149-100 19-8 1-110-33-106 50-216 38-175 11-72 0-138-34-42-15-49-7-178-49-17-3-199 4-98-22-77-53-25-7-33-26M-17 777l40-10 26 5-2-20-26-16" stroke="#3f4fc0" stroke-width="5.5"/><path d="M1965 435l0 294 8 74-131 1 102-53 276-168 131-67 14-46 19-35" stroke="#e03c28" stroke-width="8"/><path d="M1965 435l7 267-3 58 15 257-11 134 5 18-47 211 45 138 21 96 27 34 24 112-46 156-2 43-5 18-11 15-5-5-21 10-165 118-73 79-39-40-1-18 7 9 6-1 138-43 13 2 42 25 1 10 6 4-23 7M1965 435l0 53 66 463 4 108 9 41 29 76 90 152 37 101 54 68 92 87 35 63 53 55 53 45 51 91 97 102 7 23-4 1-126 0-47-11-13-100 32-71 40-109 13-12 39 4 11-14 4-26-6-6-12 1 4-1M1965 435l-52 476 9 69-4 16-36 80-105 122-98 132-16 64-16 110-23 100-49 154-29 49-19 19-12 38-27 33-20 34-9 34 13 122-3 22-17 33-72 96-26 19-130 59-85 11-50-3-26 6-27-12 0-8 16 24 14 49 6 10 6 29-2 17 6 18-4 5 7-3M1965 435l-2 83 21 123 79 346 0 22 99 468 5 41 38 168 23 62 51 197 42 81 190 198 33 24 26-73-19-73 7-35-7-13-31-10 44-93-17-5-45 11 12-15M1965 435l-8 121 19 94 8 27 26 52 61 143 55 188 62 268-44 93-9 44-16 14-13 64-45 125-55 19 60 56 35 19-7 51 12 61 18 58 41 27 42 7 57 38 30 11 15-9 17-36M1965 435l-3 86-23 226-46 259-7 165-36 148-92 192-9 33 91 103 112 109 13 60 10 132-53 22-202 58-194-19-72-2-47 13-59 136-21 22-13 5 28-16 0 7-9 6" stroke="#3f4fc0" stroke-width="5.5"/></g></g>
<path d="M1.5,43.5V309.8" stroke="#a0a0a0" stroke-width="1"/>
<path d="M1.5,309.8H390.5" stroke="#c0c0c0" stroke-width="1.2"/>
<path d="M390.5,43.5V309.8" stroke="#707070" stroke-width="1"/>
<path d="M1.5,43.0H390.5" stroke="#dcdcdc" stroke-width="0.6"/>
<path d="M2.0,43.5H390.5" stroke="#e8907f" stroke-width="1" stroke-dasharray="6.2,2"/>
<text x="4.8" y="53.9" font-size="11" fill="#e8403a">Al</text>
<text x="388.5" y="52.7" font-size="11" text-anchor="end">0.0 nm</text>
<text x="388.5" y="103.3" font-size="11" text-anchor="end">487.5 nm</text>
<text x="388.5" y="156.3" font-size="11" text-anchor="end">975.0 nm</text>
<text x="388.5" y="210.3" font-size="11" text-anchor="end">1462.6 nm</text>
<text x="388.5" y="263.3" font-size="11" text-anchor="end">1950.1 nm</text>
<text x="19.3" y="307.6" font-size="11">-1420.2 nm</text>
<text x="102.6" y="307.6" font-size="11">-710.0 nm</text>
<text x="182.1" y="307.6" font-size="11">-0.0 nm</text>
<text x="254.2" y="307.6" font-size="11">710.0 nm</text>
<text x="330.6" y="307.6" font-size="11">1420.0 nm</text>
<clipPath id="clb"><rect x="394.5" y="43.5" width="389.0" height="266.3"/></clipPath>
<path d="M433.5,43.0V309.8M511.5,43.0V309.8M589.5,43.0V309.8M667.5,43.0V309.8M744.5,43.0V309.8M394.0,96.5H783.5M394.0,149.5H783.5M394.0,203.5H783.5M394.0,256.5H783.5" stroke="#cccccc" stroke-width="1" stroke-dasharray="1,1" fill="none"/>
<g clip-path="url(#clb)"><g transform="scale(0.1)" fill="none" stroke-linejoin="round"><path d="M5895 435l211 213 88 170 61 158 85 141 55 127 142 245 6 27 44 74 52 197 21 57 152 242-7 39-6 102 4 19 142 298-17 108-11 27-45 75-231 290-21 56-5 28M6564 3154l-6-46-17 5-3 11-22 21M5895 435l326 253 178 132 27 205 37 105-7 116 0 139 51 32 71 31 48 35 83 110 16 26 45 123 18 103 0 39-9 36 21 74-6 20-22-74-4-74 113-127 73-71-25-22-22-11-21 1-21-8-22 40-13 125 6 81 37 101-4 10-19 3 2-20-4 14-11 4M5895 435l290 286 47 73 195 167 165 215 172 178 10 18 35 36 44 35 54 62 127 81 25 40 24 19-65 44-12 23 9-1-42 32-1 49-14 79-56 120-10 40-54 31-78 84-92 56-54-13-14 3-35-16-14 15-26 7-8 11-12-7-19-2 10-11-11-9M5895 435l319 313 147 155 45 39 294 303 20 30 124 257 39 126 85 193 97 191 79 20 26 13-2 23 9 37-3 54-192 200-31 27 26 103 8 22 35 33 37 63 57 163 25 7 5-25 38-75 18-23-4-16 13-6" stroke="#3f4fc0" stroke-width="5.5"/><path d="M5895 435l74 74 88 73 82 79 46 61 118 181 166 150 20 2 116-16 144 9 50-5 75-16 253-42 38-37 116-180 39-214-13-74-19-32-17-13" stroke="#e03c28" stroke-width="8"/><path d="M5895 435l131 131 123 88 71 66 61 67 57 53 75 91 110 66 13 26 10 123 13 89-31 279-7 96-34 120-11 150 8 70 22 27 84 74 64 87 18 44 155 97 101 115 25 16 46 2 50-12 103 68 36 9 201 28 45-9 11-19-3-103 7-15-28-34-40 1-42 19-3 0 4-7 31 9M5895 435l62 62 36 20 221 168 102 45 107 169 112 60 254 155 145 53 58 61 44 58 203 315 38 114 4 169-8 40 2 239-20 51-61 67-6-4-88 49-55 17-81 60-66 59-56 27 22 84 44 17 56 66" stroke="#3f4fc0" stroke-width="5.5"/><path d="M5895 435l67 65 114 132-61-3-119-25-73-3-85 34-72 66 26 34 99 74 66 77 220 114 172 35 22 48 14-4 16-70-3-53 35-46 23-20-37-62-24-29-62-127-37-28-105-102-21-32-8-75" stroke="#e03c28" stroke-width="8"/><path d="M5895 435l65 65 143 164 236 228 198 174 111 79 261 161 603 363 103 85 6-17 5-168-17-39-65-78-53-27-32-23-43-40-15-5-64-45 20-28 16-58-25-64 9-16 22-21 1-8M5895 435l89 88-7 43 27 79 260 393 48 53 37 27 43 48 115 96 139 129 132 56 99 52 20 4 16-2 7-6 24 10 49 9 75 164 93 162 90 191 20 33 40 44 0 20 27 15 4-5-3 2 5 5 41-13M5895 435l53 53 166 140-24 67-115 244-16 19-191 107-187 292-21 43-71 97-96 94-32 38-57 113-78 119-9 72-64 215-57 24-44 4-128-33-89-62-36-13-68 3-51-4-23 8-19-6-8 21 7 0-6 6 6 2M5895 435l57 57 24 57 8 69-1 46-61 335-58 267-13 96-37 164 70 140 86 83 76 102-21 213 32 203 95 7 138 22 172 46 19 0 289-7 187-11 86-18 27-26 29-6 61 19 18 29-1 5 29-61 3-23-8 22 2 8 33-21" stroke="#3f4fc0" stroke-width="5.5"/><path d="M5895 435l97 97 73 100 132-25 217-67 64-75-16-30" stroke="#e03c28" stroke-width="8"/><path d="M5895 435l104 103 112 145-51 164-66 120-41 158 4 364-70 343-39 131-62 150-45 94 38 171 84 195 44 140 28 61 118 156 7 7 35 12-30 161-24 36M5895 435l24 24 55 101 29 81 35 319 80 417 33 201-15 106-38 60-4-3-74-269 10 14-55 43-15 16-53 92-19 46-67 84-59 60-95 92-63 48-20 28-29-15-33-8-33 24-6 100 12 39 40 74 10 4-60 15-19-7M5895 435l78 77 73 103 163 270 23 29 145 145 235 82 117-10 13 13 302-32 128 27 298 212 41 91 21 32 30-10 50-72 84-80 38 7-17-91 50-95-5-47-12-35 4-39 12-11-3-18 10-8-4 0M5895 435l166 185 68 133 78 110 16 37 86 9 23 28-19 57 3 51-21 117-2 89 22 105 24 30 9 7 235 52 182 27 364 106 72 10 104-39 78-7 116 88 49 54 95 254-18 80 11-13 20 2 50-49 1-13 9-6" stroke="#3f4fc0" stroke-width="5.5"/><path d="M5895 435l144 152 174 216 29 20 231 81 46 1 267 37 83-9-34-56-30-29-27-64-107-83-32-44 28 54 4 20 56-112 0-16 33-44 117-30 124-24 158-22 52-48" stroke="#e03c28" stroke-width="8"/><path d="M5895 435l101 101 6 12 62 344-8 124-25 150 9 102 31 150 22 78 5 35-4 68 33 14 12-12 21-38-12-10-74 56-51 65-20 35-7 121 10 71 31 46-85 34-38 28-68 67-15 21-3 22-22 53-21 118-69 25-52 55-15 10 14 12 0 8M5895 435l161 155 123 107 132 145 231 154 93 75 77 19 254 101 130-62 29-8 17 8 2 4-28-5-47 4-38 5-41 13-72 6-34-97-17-20-182-126-49-77-17-40-6 77-19 62-68-35-23-17-18-30-109-5 7-14 4 9 13 0 37-35-7-18M5895 435l21 21 78 236 77 205-285 144-38 25-24 7 3 29 24 3 11-16-99 105-47 95 10 50-4 9-7 4-26 0 9-20-26 26 25-119 11-75 55-110 19-127 8-114 62 3 32-8 105-49-9-9-31-16-4-5 6-7-50-30-20-14-11-15-19-2-12 5M5895 435l108 107 71 49 242 79 175 77 3 16 167 267 65 75 44 37 147 182 57 34 32 179 35 132 50 58 33 57 172-504 6-169 13-67 33-84 11-5 25 15 56 22 69 101 11 46-2 46-5 16-8 3 7-24M5895 435l260 259 52 44 163 370 35 52 22 21 3 34-21 314-54 257-24 181-54 301 2 108-89 275-9 18-33 211 29 66 92 29 136 30 50 22 52 16 109-67 93-24 34-14 3-19 23-63 23-20" stroke="#3f4fc0" stroke-width="5.5"/><path d="M5895 435l137 137 50 43 162 70 136 89 52 19 81 22 106 10 77 25 56 5 201-89 119-60 39-31 89-99 101-141" stroke="#e03c28" stroke-width="8"/><path d="M5895 435l84 137 44 109-14 89-1 263-39 142-57 102-85 119-106 198-75 190-75 327-26 89 10 47-41 82-99 134-23 43-40 163 7 33 15 13 34 14 302 167 68-38 18-22-14-24-18 8-43 38 3 11 14 9-7 1-3-10 4-18M5895 435l144 144 112 125 217 188 218 200 66 84 285 6 79-8 177 5 93-4 31 18 63 12 124 35 57 35 35 72 112 113 64 76 40 71 58 47M5895 435l104 97 210 139 34 14 121 33 338 44 206 69 178 73 32 20 49 39 267 130 438 231M7882 2144l-45 45-14-21 4-17 21-24 12 1M5895 435l90 90 210 413 26 40 131 141 158 57-16 41-6 54 12 9 19 38 6 27 57 36 104 144 34 79 158 260 14 51 29 70 152 304 6 23-11 39-21 23-24 11-35 31-16 33 5 0-4 30 9-7-1-5 7 16 9-2 3-14-32 22-34 13 8 11M5895 435l122 121 149 180 120 165 35 38 173 131 198 119 718 274 233 75 59 30 117 76 51 41M5895 435l257 256-24 174-41 595-78 368-4 68-18 103 32-21 100-319-70-183-54-82-90-225 9-42 51-42 79-34 203-1 65 13-8 26-46 47-33 16-28 8-25 0-36-22-36 4M5895 435l10 10 153 248 19 21 135 35 60 22 111 79 41 21 40 15 26 24 294 190 206 189 43 85 164 448 64 83 15 7 111 19 167-18 30 2 68-25 30 63-12 81-29 37-3 40-40-3-2-6 1-86 30-133 16-42-16 4-4 8-1 7 16 11-3 12M5895 435l34 34 69 56 198 195 101 58 36 35 163 122 200 228 60 38 93 78 78 92 142 81 187 165 40 47 36 147 18 116 13 122 10 44 17 213 12 248 173 211 25 18 70 105 37 34 13 1-40 100 5 29 40 41M5895 435l264 259 183 134 67 56 28 37 55 104-30 158-3 119-21 84-11 108-60-27-48-12-113-13-128-100-45-57-76-60-38 55-87 201-83 100-109 79-43 39-122 155-30 6-23-6-55 1-64-56 30 5 40-38 5 29 23 3 2 20 5 7-2 14M5895 435l73 73 74 42 357 242 365 94 248 215 35 15 86 71 31 17 9 10 272 171 23-31 40-27 204 0 10 32 0 27 62 40 7-5-48 47-58 4-29-12-22-17 1 5M5895 435l26 26 34 68 66 162 10 35 51 116 17 52-2 396 108 114 153 80 149 166 15 53 9 68-2 268-13 24-160 7-36 13-81 5-107 314-3 23-21 10-54 38-30 31-100 150-31 26-65 73-16-28-15 11 5 9 1 22-3 56-41 7-56-23-12 4-8 18-14-5-21 4M5895 435l153 153 110 61 72 37 230 96 212 77 59 19 78-7 54 16 330 69 473 211 127-6 80-15" stroke="#3f4fc0" stroke-width="5.5"/><path d="M5895 435l154 119 232 203 137 110 62 54 76 78 70 44 174 15 294-17 115 9 216-255 13-77 7-234-2-49" stroke="#e03c28" stroke-width="8"/><path d="M5895 435l169 169 134 148 83 123 66 166 112 83 126 126 24 52 137 241-43 138-12 92-41 102-32 55-5 32-41 65 24 41 21 23 11 3 73 59 94 30 67 29 99 5 29-13 13-16-24-87 12-26 0-32-14 2M5895 435l35 35 296 364 35 218 13 47 110 331 42 97-14 444 22 113 35 116 108 253 52 146-2-13 39-90 27-41-2-13-12-35-60-14-21 7-62 102 33 115 22 132 14 47-28 20 0 24-38 53-15 35-32 16-25 23M5895 435l399 402 89 30 276 177 141 78 55 53 154 189 109 45 56 28 55 66 53 48 64 116 53 38 58 52 70 108 176 221 79 63 46 25 97 80M5895 435l266 228 79 94 34 133 0 34 28 158 25 56 53 85 26 56 148 711 52 105 11 12 91 43 112 24 50 22 75-10 169 4 134-118 70-98 7-22 63-77 33-83 8-38 43-116 14-92 16-23-6-12-3 2 3 7 10-3 0-5" stroke="#3f4fc0" stroke-width="5.5"/><path d="M5895 435l31 31 87 56 137 68 172 51 83 42 28 47 53 126 123-32 209-16 162 60 56 25 25 20 83 36 89 105-109-98-34-37-11-28-7-38-26-69-181-156-19-28-9-55 0-30 12-80" stroke="#e03c28" stroke-width="8"/><path d="M5895 435l397 414 31 27 124 42 152 68 25 4 74-3 92 9 125 28 90 6 102 24 21 11 73 9 148 8 171 39 30 21 63 62 18 9 138 17 110 169M5895 435l338 336 280 129 80 8 57 1 322-26 221 4 96 6 102 19 255 64 153 47 42 8 5 5 15 46 4 49-20 30 25 108" stroke="#3f4fc0" stroke-width="5.5"/><path d="M5895 435l128 101 126 111 120 89 53-41-11-155-15-105M5895 435l64 64 110 43 362-22 106-18-9-15-50-52" stroke="#e03c28" stroke-width="8"/><path d="M5895 435l140 140 143 151 136 238 57 136 73 131 88 78 393 388 197 64 87-19 8-12 34 10 41-15 47 35 86 15 475 51M5895 435l67 67 51 77 8 27 50 62 24 51 146 199 13 32 4 162-67 404-30 66-17 205 6 35 61 82 20 8 120-11 45-88 47-175-1-135 4-10 66 52 41 52 16-2 26-14 7-7 12-29 17-18 53 11 87-48 77-9-1 12 9 0 5-3 2-10M5895 435l131 130 468 387 229 161 175 85 150 104 146 161 51 25 223 49 166 17 200 1 93-31M7881 1344l-99-77-144-192-18-46 95 24 141-57 13 0M5895 435l308 311 178 275 77 137 166 261 42 110 66 54 115 118 190 160 52 29 39 28 13 73 19 43 11 14 23 88 39 115 36 54 98 248 38-3 49 21 28 22 133 20 39-4 41-18 101-78 30 4 40 13M5895 435l63 53-78 291-334 319-104 86-253 144-222 147-77 36-134 52-295 23-109-73-275-123-81-52-79-111-18-44M3913 1057l32 38 178-84 11-51 20-19 70-4 11 2 9 14 16-7 1-7 12 1 2-4M5895 435l315 314 151 212 98 209 28 159 73 193 118 342 50 90-7 21 20 191-1 60-91 293-4 46-65 150-38 29-140 78-53 17-65 5-61 14-68-46 26-12 23-26-1-34-36-68 45-78 2-18 7-1 9 10M5895 435l177 169 274 316 78 113 194 433 59 276 3 88 22 130 108 222 52 195 30 58 0 177-54 87 1 172-11 53-104-93-330-129-27-2-69-41-50 8-71 62-3 46M5895 435l122 121 142 157 157 183 73 106 188 247 144 164 45 65 195 218 13 188 37 29 36 9 24 1 61-20 63-32 77-29 88-12 95-24 43-45 65-100 0-40 19-54-15-13-30-15-26-7 14-3M5895 435l140 134 180 222-1 141-16 122 12 104-12 378-6 66-43 143 56 332 25 114 33 120 48 79 73 102 37 102 0 35 47 239-32 13 2 4-6 20 5 27 36 12 24-4 16 48 3 63-4 12-40 24-119 36-5-3 29 19" stroke="#3f4fc0" stroke-width="5.5"/><path d="M5895 435l149 149-21-6-37 6-128 37-82 84-12 5-47-13-64 4-105 160 5 100 20-43 45-45 67-37 105-158-12-35 8-60-15-41-1-14-21-22-61-45-69-18-13-8" stroke="#e03c28" stroke-width="8"/><path d="M5895 435l82 82 146 9 71 13 143 50 212 103 103 62 142 100 45 47 65 25 143 81 14 36 285 209 113 56 133 40 39-2 63-42 19-79 88-82 149-125" stroke="#3f4fc0" stroke-width="5.5"/><path d="M5895 435l37 37 61 24 87 59 159 46 62 39 67 19 162-16 177-25 108-5 71-40 7-10 3-71-10-57" stroke="#e03c28" stroke-width="8"/><path d="M5895 435l109 109 91 80 217 121 74 26 142 74 111 116 205 301 150 114 59 5 160 0 224 11 154-8 150-48 176-120" stroke="#3f4fc0" stroke-width="5.5"/><path d="M5895 435l47 47 71 44 11 3 244-1 105-20 50 4 122-3 197-35 174-39M5895 435l67 67 11 100 30 188-71 194 9 40-8 58 96 22 53-9 58 11 95-35 88-18 35 4 137 31 39 54-11 134 68-17 105 12 62 13 64-12 119-42 380-516-25-22-25-88 5-141-5-28" stroke="#e03c28" stroke-width="8"/><path d="M5895 435l188 187 316 253 27 63 3 20 24 266 79 103 223 260 50 80 45 54 31 25 72 106 151 320 97 5 36 19 55 20 31 4 74-119 33-4 118 15 81 43 53 16 11-13 40-3 44 9 22 37 26-9 3-15-4-34-13 6 32 3M5895 435l183 183 175 104 157 65 163 79 43 27 57 113 46 278 7 298 68-19 100-12 76-15 104 113 14 9-51 23-64-21-60-49-87 54-62 52-57 41-41 20-97 3-51 12-85-14-25 2-88-40-126-29-15-17-4-7 3 0-13 0-25-61 21 41M5895 435l90 90 43 108-3 250 25 115 32 119-1 118 58 124 33 153-14 85-39 69-87 110-21 74-39 232-4 115-29 129-42 141 4 122-5 89 3 96 30 134 17 41 94 13 88 18 53 22 58 96 44 8 28-2-5-17 3-7-5 25 13-8 5 2 6 21 40-23 3 3 1-17M5895 435l15 15 65 95 55 55 458 135 280 71 135 42 103 39 333 54 116 13 234 74-17-11-22 9-100-11-162 36-16-2-235 24-107 23-276-8-181 17-112 23-50-20-52-28-68-20-5-6 18-6-4-4M5895 435l148 162 162 157 54 68 67 51 212 82 41 37 35 79 10 69-46 186 2 59-18 74-19 141-28 75-88-106-144-127-186-239-126-177-33-3-97 16-87 54-37 13-54 31-30 69-5 39 15 3 7-8-6-16 31-38 19-15 22-9M5895 435l58 58 47 262 34 149 5 73 15 89-27 131-53 170-79 338-7 121-6 30-26 40-15 79-30 72-144 168 67 110 153 204 72 115 37 44-14 79-2 59 41 40 45 23 34 24 11 13 19 77 9 14 32 112" stroke="#3f4fc0" stroke-width="5.5"/><path d="M5895 435l213 208 101 144 49 43 41 24 50 21 93 30 64 12 37 0 350-44 33 2-92-106-186-334" stroke="#e03c28" stroke-width="8"/><path d="M5895 435l133 129-18-90-2-36 19 201 14 62 59 347 81 16 110 7 106-24 18-85 163 14 9 8 125 231 9 57-2 53-13 25-59 178 0 40-20 74 3 29 136 70 70 137 14 15 57-46 56-30 25-20 59-17 37-63 22-60-3-13 22-67-1 4 12 8 7 19-14-6M5895 435l309 223 214 130 55 13 35 14 109 109 145 480 56 283 6 11-7 41-20 30-110 115-93 88-109 58-13 21-25 84-28-8-34-18-25 70-18 24-31 21-188 79 15 7 12 21-7 2 12 24M5895 435l232 231 189 222 128 73 126-47 195 26 359 211 24 19 127 162 43 175-6 124-28 150-44 107-60 70-89 162-98 41-106 70-149 70-14-3-17-21-76-34-21 1 0-8-10-3-5 3 3 2-4 5 21-12 13 2-1 14-1-8-5-2M5895 435l310 309 117 176 267 35 109-22 318 50 107 33 93 13-31 45 17 28 81 83-8 9 3 7-25 96-7 50 4 46-15-3-70 17-16 24 1 38-7 8 11 14-3 19-22 26-7-3 111-110 19-13 15 12 5-7-61-24-10 7" stroke="#3f4fc0" stroke-width="5.5"/><path d="M5895 435l52 51 71 61 83 92 50 60 78 117 39 46 150 211 43 42 207 130 72 35 37 0 143-18 203-70 151-25 224-59 99-62 160-155 50-38 58-89 7-24" stroke="#e03c28" stroke-width="8"/><path d="M5895 435l122 122-55 108-45 67-201 110-5 8-16 86 1 90 12 57-6 45 0 125-32 93 8 159-24 140-24 36-96-9-169-23-24 47 1 10 186 136 45 39 17 22 18 62 7 47-22 136-12 28-13 17 6 29-14 16-32 55 23 69 125 57 2 35 19 62-33 0-6 6" stroke="#3f4fc0" stroke-width="5.5"/><path d="M5895 435l191 190 134 157 81 116 35 42 132 80 80 41 90 31 291 25 97 18 44 3 69-19 201-101 73-26 238-65 75-63 28-17 19-4 108-63" stroke="#e03c28" stroke-width="8"/><path d="M5895 435l218 148 44 107 14 191 34 99 135 297 46 452 9 23 7 60-8 121 3 19-30 228-13 191-54 46-48 31-48-6-124-31-75 36-82 61-21 32-12 62-130 165-3 42 14 52-15 32 0 53 68 56 31 16 126 99 67-5 35 47" stroke="#3f4fc0" stroke-width="5.5"/><path d="M5895 435l54 52 89 60 404 317 115 75 213 123 67-25 48-24 39-87 24-174 0-103-16-153-2-61" stroke="#e03c28" stroke-width="8"/><path d="M5895 435l320 305 266 157 61 19 257 123 368 125 331 136 120 67 164 105 65 56 6 3 53-9M5895 435l53 48 85 98 61 131 135 242 115 178 76 175 208 265 61 69 105 104 97 185 33 51 54 40 104 4 44 8 125 84 28 28 41 53 14 11 25 56 44 123 46 207-7 32 9 36 179 83 59 4 12 6 90 11-1 11 6 10-4 27M5895 435l272 274 213 165 223 82 36 30 21 31-104 96-82 0-95 102-40 36-239 14-75 29-212 54-172 53-122 58-239 32-115 61-53 37-113 49-22 18-45 52-83-4-26 15-4 7-54 15-52 4-51 9-9 23-8 8-17 2 17-12M5895 435l102 102 86 93 72 107 192 150 25 34 41 29 50 13 287 181 87 21 54 42 131 83 108 41 47 29 51 43 106 68 28 32 49 9 46-31 201-159 188-104 67-46" stroke="#3f4fc0" stroke-width="5.5"/><path d="M5895 435l19 19 9 17 35 24 193 64 112 31 282 90 46 0 37-12 109-17 107 7 255-6 323 2 154 11 89 0 212-16" stroke="#e03c28" stroke-width="8"/><path d="M5895 435l260 259 87 119 131 120 226 148 63 37 271 87 76 64 100 98 99 53 57 50 85 46 295 69-2 37-33 81-38 162-42 102-19 21-9 20 24 48-3 36 8 30-9 17 1-8 9-8-3-27-15-17 18 6-13-16 1-4 63-111" stroke="#3f4fc0" stroke-width="5.5"/><path d="M5895 435l40 41 52-22 26 0 24-19M5895 435l25 25 37 17 136 51 569 248 236 125 141 120 66 14 51-26 37-32 11-34 1-28 19-57 105-175 131-199 5-25 11-24M5895 435l249 244 87 97-15 39 108-115 135-107 14-25 65-42 176-91" stroke="#e03c28" stroke-width="8"/><path d="M5895 435l801 798 178 141-52 107-105 155-23 10-11 10-189 232-202 234-95 141-170 124-41 82-33 106-59 95-86 154-31 38-144 31-78-9-12 4 20-18 49-14 6 4-2-12-16-3 8-2M5895 435l125 130 213 204 229 251 61 59 169 90 159 57-90 102-148 210-98 159-28 33-65 98-8 1-1-7-35-26 13 1 46 47 28 19 79 11 110 5 8-23 12-9 64-126-3-18 55 42 25-20 44 20 55 43 65 91-20-11-16 3 24 24-6 6-30 5-13 11-5-7M5895 435l136 129-1 16-23 72-78 164-15 45-68 393-50 142-51 65-81 85-74 95-144 153-152 68-121 60-99 29-59 30-100 62-144 112-34 45-45 145-3 36 26 40 26 15 13 16 3 14-37-53 18-5 59 78 51 49 124 83 13 3 8-5-84-53-15 0 10 19" stroke="#3f4fc0" stroke-width="5.5"/><path d="M5895 435l214 212 191 95 134 55 131-50 90-27 36 6 42-5 147-5 103 12 90-40 82-27 30 2 28 8-8-6-55-101-104-129" stroke="#e03c28" stroke-width="8"/><path d="M5895 435l109 109 199 228 102 84 371 265 16 31 73 199 247 15 16 12 29 61 22 214 7 504-2 96-4 32 33 158 2 44 17 11 109-3 38 4 32 34-65 53-72 13-55-2-132-63 57-47-9-13 5-5-3-14M5895 435l198 201 104 65 96 36 272 132 102 113 19 47 81 112 17 52 53 75 64 59 112 150 14 31 4 27 39 115 12 74 16 183 18 103-34 230 3 29-156-25-9 48-54 4-9-10-8-1 35-23 47-3 71-121 55-42-36 26" stroke="#3f4fc0" stroke-width="5.5"/><path d="M5895 435l50 47 187 127 197 170 123 82 11 17-16 174-10 15-41 13-1-5 53-64 85-48 33-13 206-15 126 8-247-133-112-83-30-49-53-55-25-51 5-19 13-14 42-104M5895 435l187 191 69 54-25 69-17 15-22 11-36-8-100-5 25-76 15-77 1-27-8-65-18-82M5895 435l40 40 36 24 234 195-40 2-103-8-97-19-27-15-39-5-59 18-53 8-102-63-159-139-35-38" stroke="#e03c28" stroke-width="8"/><path d="M5895 435l105 108 95 138 360 369 25 58 54-27 123-77 7-14 40-37 49 24 2 71-29 96-5 29 7 33 35 64 38 1-117-23-75 44-27 10-93-11-110-3-79 62-24 34-29 26 7 22 5 55 9 19-15 18 0 17M5895 435l112 123 127 115 175 197 108 143 30 132 28 78-4 62-59 385-6 30-30 68-6 8-209 86-80 124-30 56-41 56-34 24-5 2-57-26-100-193-94-225-17-75 11-49 50-94 7-40 27 0-8 60 7 103-13 15-8-7-14 1 4 2-4 6-2-4" stroke="#3f4fc0" stroke-width="5.5"/><path d="M5895 435l289 252 58 76 83 160 47 27 71 9 283-29 43 15 47-15 62-7 38 1 103-53-1 38-16 99-18-4-13-37-45-22-44-27-58-51-54-68-19-50-23-36-49-139 0-14 45-125" stroke="#e03c28" stroke-width="8"/><path d="M5895 435l369 368 122 112 135 94 57 60-16 35-99 122-201 288-48 93-73 305-12 67 2 81-10 43 43 45 5 29 23 16 17 3-14-24-183-115-126-107-146 120-29 1-41 48-5 16-72 66-59 67-7 79-15 54-88 8-16-11 11-10M5895 435l150 149 415 98 46 7 80 4 38-18 168-147 68-12-5 72 2 77-25 156 51 238 125 142-3 34-47 92-11 43 22 101 18 37 0 29 23 2 31 26 17 8 2-25 56-77 29-102-2 7-16 4-32-14-18-24-2-19-12-5M5895 435l102 101 247 211 67 38 279 89 169 22 57 17 108 52 66 51 224 105 75 22 85-45 49-41 76-74 219-171 28-8 57 2 108 19" stroke="#3f4fc0" stroke-width="5.5"/><path d="M5895 435l178 177 37 43 66 31-263-54-51-22-30-21-165-154" stroke="#e03c28" stroke-width="8"/><path d="M5895 435l153 156 59 83 69 84 354 348 211 223 127 114 132 107 105 114 18 12 231-13 29 4 214 230 21 9 226-16 22-43M5895 435l100 101 425 601 31 14 339 197 47 39 111 137 151 117 20 43 11 91-23 404-31 171-11 86 55 59 159 37 33-1 40 7 102 5 16 8-52-71-23 47-20 22-2 16 17-11-3-8" stroke="#3f4fc0" stroke-width="5.5"/><path d="M5895 435l145 142 38 43 81 119 96 112 79 110 60 42-15 0-36-51 37-25 12 2-15 14-4-54-19-31-25-92 25-49-5-126 4-30-27-40-15-49 25-37M5895 435l83 76 135 161 97 105 56 11 246 15 280-9 80 8 147-21 77 8 96-30 150-34 29-10 103-16 114-70 10-14 13-45 21-15-31-21-8-13 2-12 7-10 30-21 11-17 32-26" stroke="#e03c28" stroke-width="8"/><path d="M5895 435l52 45 47 24 133 166 181 139 58 39 134 146 35 33 100 133 203 145 159 122 57 53 145 109 75 71 11 83 15 54 53 82 114 120 101 115 87 123 259 252M5895 435l92 92 71 81 37 70 47 69 37 44 101 87 39 75 146 337 236 591 3 44-12 128-28 135-30 89-60 115-57 84-57 65-2-22-92-117-143-163-35-62-7-3-8 24-6 56 128-106 46-9 94 38-39 62" stroke="#3f4fc0" stroke-width="5.5"/><path d="M5895 435l23 26 165 111 112 37 112 19-186 105-142 35-105-14-110-32-228-165-70-122" stroke="#e03c28" stroke-width="8"/><path d="M5895 435l187 145 226 307 8 20 5 41-174 96-100 16-63 47-134-49-78 65-72 42-219 74-56 6-121-70-18 63-63 79-14-1-68 35-36 8-52 30-87-106-32-14-24-17-10 10-3-11-35-17-20-17-8-14 8-3" stroke="#3f4fc0" stroke-width="5.5"/><path d="M5895 435l64 75 71 118 192 166 132 84 92 14 69 21 125 132-44-17-175-105-21-14-34-35-38-69-147-230-97-140" stroke="#e03c28" stroke-width="8"/><path d="M5895 435l24 24 135 9 215 47 62 22 74 3 234 35 63 16 56 31 231 77 79 62 397 225 18 15 144 17 133 56 96 22 26-3M7889 1288l-75-20-42-1-20-10 17 9M5895 435l87 79 35 40 598 152 105 40 77 9 26 8-38 72-14 72 14 101 87 237 26 125 107 200 20 66-3 24-25-48-7-36-1-63-10-32-40-94-47-84-78-66-38-9-132 31-92 31-28-18-168-83-87-25-70 3" stroke="#3f4fc0" stroke-width="5.5"/><path d="M5895 435l70 70 144 71 39 16 124 9 157-34 109-17 91-26 53-42 36-47M5895 435l62 62 64 88 145 166 35 48-93-364" stroke="#e03c28" stroke-width="8"/><path d="M5895 435l68 68 267 302 76 79 71 67 51 58 29 267 10 51 7 137 35 215 95 155-127 151-37 70-24 87 1 30-26 71-8 40 14 23 61 39 94 84 32 72-7 131 4 143-31-69 17-6 35 31 0 17-32 120 8-5 0-12-11-8-28-9-21 2M5895 435l41 41 18 10 85 77 49 36 99 93 391 329 41 29 115 110 150 159 1 28-14 85 4 49 32 140-2 26-12 42 10 62 34 67 179 181 84 124 14 42 46 242 10 19 221 6 61-7 76-17 115-35 48 3 21-10 25 6 36 17" stroke="#3f4fc0" stroke-width="5.5"/><path d="M5895 435l55 55 46 38 82 49 57 23 104 65 369 243 39 47 142 81 84-62 129-186 12-38 7-199 7-35-14-81" stroke="#e03c28" stroke-width="8"/><path d="M5895 435l91 90 130 96 121 105 75 42 126 103 10 13 66 131 215 281 248 312 13 8 160 248 106 112 72 52 67 89 22 43 54 68 19 17 144 188 52 78 53 189 28 14 26 24 133 148M5895 435l116 112 116 180 201 278 112 254 108 118 159 152 68 47 218 106 102 96 4-240-3-108-10-68-29-82-30-173-10-21-26-92-26-65 28-9 62 26 26 5 138 52 52 6 23 10 6 5 7 25 21 10 18 22-12 32 2 14 4-17 25-30 24 2 10 7-2 5M5895 435l47 45 33 45 92 71 230 54 85 13 584 66 433 17 108-49 52-33 110-126 80-2 34 12 28 14 11 32-119 114-26 36-1 107-11 128-47 83-43 37-5 73-14 1-40 21 55 37 11 26 35 3 6 9 28 12 19 27 94 41M5895 435l143 142 46 53 31 68 89 325 39 54 77 86 47 20 67 126 63 100 23 56 338 329 233 234 96 47 44 0 154 47 143 20 60 24 100 103 21 36 25 31 26 20 44 49 1 19 34 35 10 5-28 64-52 23-53 9-6-5-24 0 9-6" stroke="#3f4fc0" stroke-width="5.5"/><path d="M5895 435l71 56 14-56M5895 435l95 121 256 210 105 73 99 103 42 57 67 67 82 67 272 38 84 46 133 23 117 37 130-52 88-46 130-35 46-24 154-149 66-109 10-23M7889 704l-34-112-3-39 7-97 6-21" stroke="#e03c28" stroke-width="8"/><path d="M5895 435l795 791 107 124 235 494 53 22 315 99 227-41 108 24 6 5 49 126-8 25-43 9-69-9-296-98-13-8-48-10-132-60-15 36-7-3-8-15 10-13-14-3 17 3 2 7" stroke="#3f4fc0" stroke-width="5.5"/><path d="M5895 435l97 85 38 25 92 54 96 40 271 36 63 4 79-4 81-12 251-66 254-29 173 30 151-2 25-19 16-20 24-93 14-29" stroke="#e03c28" stroke-width="8"/><path d="M5895 435l14 14 68 103 154 259 77 54 375 214 224 150 192 122 219 168 31 40 276 231 78 41 80 21 305 43M5895 435l54 54 172 117 203 71 69 40 134 124 52 66 223 256 63 32 105 72 197 88 280 116 340 39 240-22M5895 435l31 31 170 261 149 176 167 213 6 36 9 91-10 102-90 146-173 328-16 80-5 67-33 159 47-1 32 16 73 10 22 42 12 11 71-26 54-45 314-222 170-127 36-31 41-12 6 2-16 58 65 15 9 50 37 3-12-9 7 6" stroke="#3f4fc0" stroke-width="5.5"/><path d="M5895 435l122 121 235-54 251 19 92-7 232 33 108 9 35-4 80-22 119-51 71-44" stroke="#e03c28" stroke-width="8"/><path d="M5895 435l120 105-34 47 71 141 107 154 233 374 48 94 2 28 146 134 236 134 199-28 353-2 266-35 29 1 121-17 41-10-44 38-43 16-55 0-31-9-61-39-9-2-44-34-42-17-15-3-10 4M5895 435l158 158 47 33 217 128 21 26 129 23 206 185-134 8-59 60-22 17-139 173-37 13-106-20-45-3-45 17-71 0-53 12-58-7-16-39 13-57 6-206-10-28 25-31 69-69 12-7 38-6 17-32 29-22 44 10 36-44 25-17 2-46 6-12 15 14-8 23" stroke="#3f4fc0" stroke-width="5.5"/><path d="M5895 435l170 169 118 51 166 54 119-6 96-16 29-35 146-217" stroke="#e03c28" stroke-width="8"/><path d="M5895 435l104 102 159 86 42 27 324 228 20 19 11 56 37 23 115 37 10 23 26 26 53 37 102-20 109 17 185-29 76 1 114 44 48 13 92-7 74-62 40-62 43-103 61-26 18 7 12-14 5-48-12-25 26 28 66 57 10 1" stroke="#3f4fc0" stroke-width="5.5"/><path d="M5895 435l210 201 50 39 113 71 101 47 238 78 91 65 111 29 40 26 98 17 215 83 153 32 103 5 44-6 37-41 77-46 72 90 29 23 22-15 10-28 2-52 13-47 9-96-8-72 15-185-13-121 2-52 9-45" stroke="#e03c28" stroke-width="8"/><path d="M5895 435l282 281 115 123 135 124 180 119 134 95 88 69 107 67 71 10 223 65 64 217 5 186-25 84-16 16-29 15-106 41-89 24-44-5-149-42-26-4 112 26 24-1 10-2 49-45 12-4M5895 435l254 253 25 19 96 56 236 126 22 8 67 10 396 82 76 52 20 53 116 58 5 23-66 123 25 21 13 18 54 222 16 50 24 35 47 50 98 73 119 23 84 22 41-2 51 6 4 41 11-35-5-7 23-19 2 20 10 9 6 17M5895 435l99 91 133 145 101 126 162 110 206 72 44 41 210 167 183 118 25 38 80 98 233 398 36 46 257 207 29 41 69 46 8 9 16 42 31 42 12 33-8 11-60 43-38 44-49 0-162-109-36-33-78-8-1-12 37-49-14-52 12 6 12-8-12 15" stroke="#3f4fc0" stroke-width="5.5"/><path d="M5895 435l68 67 53 84 74 4 140 19 146 1 38-1 175-41 66-31 79-61 39-41" stroke="#e03c28" stroke-width="8"/><path d="M5895 435l153 143 46 15 92 68 95 147 49 104 52 132 152 218 54 93 25 100 133 209 8 18-1 189-36 147 75 141 9 56-13 128-56 128-40 25-32-3-88 39-149 131-9 33-32-42-57-31-38-42 7-24-13-21-7-28 30-14 3-6-6-4" stroke="#3f4fc0" stroke-width="5.5"/><path d="M5895 435l107 112 142 203 280 191 107 58 8-20 409-116 211-96 37-12 123-93 65-25 48-38 219-77 86-26 70-14 92-47" stroke="#e03c28" stroke-width="8"/><path d="M5895 435l114 114 267 248 448 317 276 299-89-13-39-14-59-13 53 42 93 24 54 67 174 44 47 42 32 74 29 30 55-22 57-116 35-52 11-3 14 2 30 46 21 42 49 49 149 40 43-7 23-10-13-25 14-14" stroke="#3f4fc0" stroke-width="5.5"/><path d="M5895 435l71 71 128 80 124 42 113 15 172 43 50 4 91 16 104 34 75 45 82 35-61-20-139-29-150-100-58-47-260-119-57 16-16-10-23-33-24-24-32-3-20-16" stroke="#e03c28" stroke-width="8"/><path d="M5895 435l72 73 190 242 45 88 71 113 71 134 137 72 128 44 40 26-217 17-98 2-328 70-101 42-176 20-9-9-42 3-19 7-92 157 245 203 73 14 218-141 61-6-30 30-107 22-71-8M5895 435l71 71 183 146 30 17 560 390 121 109 90 192 38 158 52 111-19 84-58 37-57 85-6 30-16 39-44 89-147 118-58 14-206-36-81-21-55-34-118-61 42 64 10 75-52 172-4 28-42-63 0-28 19-24 0-17-10-7 0-6M5895 435l171 170 105 80 72 83 33 30 170 67 44 43 427-6 586 142 36 2 21-3 123-79 116-86 137 18M5895 435l84 87 184 82 45 34 380 248 308 170 66 63 87 127 22 43-16 34 38-12 23-63-37-81 52-123 75-114 21-25 263-198 177-61 100-4 102-12M5895 435l255 255 254 136 111 37 250 130 181 76 117 29 243 34 46 18 17 43 10 105-9 61 10 68-80 194-12 104 0 115 12 167-3 50-24 95-13 16-26 51-15 78 5 169-21 100 23 155 22 64-1 5-28-30 30 18 29 39 8 3 22 26-1-4 10-3M5895 435l26 25 123 192 140 126 104 49 161 95 73 50 26 30 111 65 81 37 307 117 75 20 140 48 46 20 27-10 120-21 170-2 121-8 52 7 25 18 74 39M5895 435l144 186 31 82 290 546 126 165 128 142 166 137 93 55 20 6 67-13 33 22 249 253 152 108 98 40 42 11 23 50 57 82 98 118 1 97-51 76-172 67-62 30-4-30 11 26-1 34-2 6 0-6-4 1M5895 435l180 184 247 348 320 275 42 86-64 272-12 77 19 108 76 295 10 66-7 61 10 126-21 27-80 141-87 172-31 43-110 78-110 26-77 27 32 19 33 45 33 28 24 36 24 25 12 39-27 29" stroke="#3f4fc0" stroke-width="5.5"/><path d="M5895 435l112 88 166-16 27-43 11-29" stroke="#e03c28" stroke-width="8"/><path d="M5895 435l398 400 54 39 124 117 169 99 223 115 225 76 186 102 126 94 45 18 297 38 209 34M5895 435l203 256 177 133 144 96 170 135 231 146 59 80-47 360-5 154 61 235 3 43 40 104 53 86 25 74 63 51 88 23 39-3 76 16 30 43 4 13 23-8 24 17-12-19-1-10-20-17 7 11M5895 435l231 233 411 580 75 78 92 86 172 241 178 140 281 258 207 157 29 34 279 10 47-39M5895 435l284 283 52 42 149 106 273 108 54 36 68 26 63 33 64 51 105 103 97 148 98 257 45 178 57 33 86 26-12 98 12 68 8-2 15-28 2-18-7-12 1-75 13-81 19-51 38-65 11-52 15-2 29 5 27-3 24 9M5895 435l56 56 149 191 243 285 236 170 65 55 27 36 111 191 92 182 37 91 109 218 73 79 118 160 63 54 58 35 18 15 23 34 48 100 28 44-7 87 15 63-82 95-25 59-10 91 24 10 14-5-3-26-19-6-11-26M5895 435l115 115 120 238 40 40 36 27 30 32 287 248 35 49 41 118 106 425 37 170 6 72-6-23 67 24 41-12 120-24 48 50 61 284 9 111-53 98-43 59-27 64-13 17-1 27 8 19 12 14 14 38 55 76 17-5 22 0-1 27 2-20-8-5 4-4M5895 435l35 28 25 28 721 685 148 92 92-69 95-87 7-13 4-41-20-67-14-15 5-44-3-18-44-134-25-45-68-67-57-36-33-39-17-27 28-47-42-12-96-13-29 196 9 77 10 23 87-1-1 15-28 42-10 31 0 29-12 21-6 1-7-1 1-11-4 9 8 0 6-7-9-2-8-8M5895 435l153 152 82 98 394 293 58 49 70 38 368 135 61 69 33 56 48 54 101 137 62 109 61 48 15 6 40 3 69-8 26-11 51-71 84-159 19-59 1-22 25-71 10-69 14-50 9-26 30-50 4-27 86-188" stroke="#3f4fc0" stroke-width="5.5"/><path d="M5895 435l143 140 199 145 198 109 36 24 184 69 248 84 166 70 189 106 55-39 152-67 49-42 104-141 72-123 31-21 60-10 21-8 48-80 32-42" stroke="#e03c28" stroke-width="8"/><path d="M5895 435l30 30 58 99-10 108 80 262 76 303 13 32 4 32-51 266-29 102-34 93-36 77-13 20-43 41 23 59 17 165 19 97-12 39 3 88-8 102-42 8-20-5-72 4-45 40-30 15-12 34-11 9 8 7 45-15 25 1 116 12 4 44-16 27-22 14-7-7-55 17-13 8M5895 435l279 283 160 268 64 127 109 278 6 133 0 125 21 86 47 110 32 25 13-54 32-66 15-49 21-112-40-117-3-59 17-109-38-75 12-71 117-166 73-22 212-78 20-11-29 49-6 26 19 4 31-3 10 2-11 5-4-9M5895 435l210 209 100 67 144 125 159 188-41 178-110 139-149 222-313 439-3-3 0 11-13 37 7 35 30 63 90 106 44 34 35 50 100 81 40 11 140-75 111-23 27-38 83-59 87-15 19 8-30 11 4-18 23 0-3 7 7-1M5895 435l70 65 198 146 384 252 392-6 124 48 53 32 135 62 84 59 89 43 132 30 186 21 122 50 3 5M7877 1939l-25 15-42 38-16-21-3 3 8 6 60 3 52-16" stroke="#3f4fc0" stroke-width="5.5"/></g></g>
<path d="M394.5,43.5V309.8" stroke="#a0a0a0" stroke-width="1"/>
<path d="M394.5,309.8H783.5" stroke="#c0c0c0" stroke-width="1.2"/>
<path d="M783.5,43.5V309.8" stroke="#707070" stroke-width="1"/>
<path d="M394.5,43.0H783.5" stroke="#dcdcdc" stroke-width="0.6"/>
<path d="M395.0,43.5H783.5" stroke="#e8907f" stroke-width="1" stroke-dasharray="6.2,2"/>
<text x="397.8" y="53.9" font-size="11" fill="#e8403a">Al</text>
<text x="781.5" y="52.7" font-size="11" text-anchor="end">0.0 nm</text>
<text x="781.5" y="103.3" font-size="11" text-anchor="end">330.0 nm</text>
<text x="781.5" y="156.3" font-size="11" text-anchor="end">660.0 nm</text>
<text x="781.5" y="210.3" font-size="11" text-anchor="end">990.0 nm</text>
<text x="781.5" y="263.3" font-size="11" text-anchor="end">1320.0 nm</text>
<text x="415.3" y="307.6" font-size="11">-961.2 nm</text>
<text x="492.3" y="307.6" font-size="11">-480.6 nm</text>
<text x="572.0" y="307.6" font-size="11">-0.0 nm</text>
<text x="647.6" y="307.6" font-size="11">480.6 nm</text>
<text x="726.6" y="307.6" font-size="11">961.2 nm</text>
<clipPath id="clc"><rect x="1.5" y="355.5" width="389.0" height="266.3"/></clipPath>
<path d="M40.5,355.0V621.8M118.5,355.0V621.8M196.5,355.0V621.8M274.5,355.0V621.8M351.5,355.0V621.8M1.0,408.5H390.5M1.0,461.5H390.5M1.0,515.5H390.5M1.0,568.5H390.5" stroke="#cccccc" stroke-width="1" stroke-dasharray="1,1" fill="none"/>
<g clip-path="url(#clc)"><g transform="scale(0.1)" fill="none" stroke-linejoin="round"><path d="M1965 3555l176 103 60 2 85 42 167-8 64-13 216-126" stroke="#e03c28" stroke-width="8"/><path d="M1965 3555l110 63 1004 220 289 72 165 88 199 156 222 258M1965 3555l128 73 203 188-73-10-60 53-87 186-119 362-50 44-103 65-189 130-196 54-155 13-343 63-53 2-69 41-73 73-80 48-40 6-23-1-4 5 3-6-4 5-12-17-17 19M1965 3555l187 107 71 14 395 125 131 49 77 38 23 17-34 91-5 86-188 396-63 81-21 84 39 43 90 56 41-73 27-64 31-113-30-47 56-54 23-45 271-637 25-63-12 4 0 11M1965 3555l208 120 63 57 165 191 62 41 156 137 104 54 103 72 256 49 275-53 6-47-3-36 25-59 3-18-12-52-43-9-274 54-42-12-20-13-63 13-43 18-18 39 25-2-25-6M1965 3555l41 24 8 11 192 139 302 149 251 92 192 27 124 70 176 78 13 165-8 0-146 80-49 35-4 9-44 42 14 12 48 25 34 37 154 20 27 11 22-12M1965 3555l492 297 182 90 77 60 65 98 28 52 359 437 82 25 15 20 14 27 9 155-18 181-58 192-13 81-5 52 3 74 7 46 49 152 44 78 31 20 54-28-10-8-9-21-5-28" stroke="#3f4fc0" stroke-width="5.5"/><path d="M1965 3555l128 74 28-74M1965 3555l145 83 373 190 291 90 63-2 85 14 160 43 78-331 24-87" stroke="#e03c28" stroke-width="8"/><path d="M1965 3555l314 181 167 78 49 44 21 9 243 35 83 7 329 76 91 8 97 23 248 132 57 9 161-3 238 8M1965 3555l237 136 63 63 232 259 176 105 114 76 232 180 170 81 347-67 108-13 61-23 34-31 14-3 103-7 80 28M3937 4337l-10-12-32-162-44 31-126 109-35-17-3-12 11-4" stroke="#3f4fc0" stroke-width="5.5"/><path d="M1965 3555l225 128 120 79 278 207 122 50 166 38 149-66 167-206 49-116 93-114" stroke="#e03c28" stroke-width="8"/><path d="M1965 3555l84 63 76 69 381 393 144 166 103 53-208 378-55 185-81 125-23 22-88 124-99 180 93 133 21 59 123 45 18-7-55 6-34-98-29-54-11-11-36 19-82 13 7-30" stroke="#3f4fc0" stroke-width="5.5"/><path d="M1965 3555l592 341 248 127 83 26 56-1 43-29 393-464" stroke="#e03c28" stroke-width="8"/><path d="M1965 3555l70 40 33 48 92 111 51 27 349 255 24 55 62 47 10 14 0 8-36 33-137 65 182-147 203-50 22-13 77 143 28 66 72 124 39 126-2 30-45 81-78 72-70 18-39-21-76-59-6-8 0-122-14-31" stroke="#3f4fc0" stroke-width="5.5"/><path d="M1965 3555l171 99 135 37 111 135 51 72 132 117 6 34-85 174-42 17-156-172-100-159-32-162 2-45 11-50 61-97M1965 3555l445 256 92-12 110-33 39-77 12-61 6-73M1965 3555l261 150 64 23 367 61 114-234M1965 3555l160 92 413 177 163 63 64 7 272-5 363 89 36-18 516-328" stroke="#e03c28" stroke-width="8"/><path d="M1965 3555l213 122 13 12 35 117 83 354-577 520-131 89-145 47-74 9-72-49-73-90-50-166-213 58-50-198-5-106 19-144-15-154-33-94 0-19-4-2-6-23 14-1M1965 3555l184 106 241 166 324 197 120 13 262 6 204-28 146 13 61 40 302 55 139-26M1965 3555l182 105 374 261 363 204 51 100 12 64 377 379 162 170 176 146 24 48 8 47-21 195-9 26-117 202-36-3-127 79 7 19 1 58 66 38-18 30-6-18M1965 3555l759 435 495 297 54 41 42 52 63 243 163 382-12 108 60 21 100 82 84-95 18-9-6-35-72-75-29-61-14-82-19-23 5-16" stroke="#3f4fc0" stroke-width="5.5"/><path d="M1965 3555l58 30 426 147 42 29 12 2 56-23 61-11 210-17 21-5 390-152" stroke="#e03c28" stroke-width="8"/><path d="M1965 3555l722 416 404 204 123-2 67 5 274 48 599 390M1965 3555l229 132 140 50 284 125 32 30 246 190-8 111-77 72-120 143-18 6-80 47 129-81 74-30 172-55 37 84 99 122 74 169-6 47-9 14-42 243-6 18-11 9-13 61 22 48-4 13 7-5 7 2" stroke="#3f4fc0" stroke-width="5.5"/><path d="M1965 3555l253 140 112 41 420-75 42-11 169-89 20-6" stroke="#e03c28" stroke-width="8"/><path d="M1965 3555l306 177 382 274 449 196 166 134 265 172 33 35 27-28 27-18 34-1 5 47-67-91-111-116-1-55-11-42 18 1 3 5-14 21 1 18 23 21 15 39" stroke="#3f4fc0" stroke-width="5.5"/><path d="M1965 3555l161 93 74-46 40-47" stroke="#e03c28" stroke-width="8"/><path d="M1965 3555l148 116 32 17 150 45 58 49 59 107 56 81 17 88-29 556-35 143-53 268-28 48 25 85 80 143 139 168 18-71-58-3-49 30-27 26 0-42 36-24 13-59-21-76M1965 3555l90 52 567 191 143 106 269 160 119 89 48-48 333-267 91-45 340-78M1965 3555l40 23 30 28 20 13 660 290 496 292 170 72 34 3-65 30-95 79-178 161-27 53 14 45-57 29-85 77-81 150-90 135-31 8-34 1-35-32-24 36M1965 3555l106 60-17 16-1 28 31 11-55 715-45 50-29 18-75 77-47 65-77 90-120 195-20 23-79 59-112 148-98-64-53 24 9 167 3-4-18 3 0 7-3-11 12-31-5-10-17 8 19 22 26-11M1965 3555l27 16 331 328 39 46 91 84 211 134 100 55 127 129 47 97 18 51 6 83-15 100 7-12-32-2 300-175 140-37 37 1 1 22 84 13 13 7 32 65" stroke="#3f4fc0" stroke-width="5.5"/><path d="M1965 3555l409 235 84 40 117 34 68-16 162-20 78-22 254-46-23-205M1965 3555l316 182 108 69 73 35 211 133 47-68 200-265 17-86" stroke="#e03c28" stroke-width="8"/><path d="M1965 3555l19 11 15 19 68 156 308 457 2 55-30 119-52 12-45 19-138-7-99 35-68 11-97-20-96-69 22-337-82-90-13-80-16-2-58-36-13 11-14 3-31 88-18 39 9 16 40 43 26-7-11-1M1965 3555l407 234 130 60 274 154 327 225 12 18 19 204 98 374 58 315 79 119 29 31-73 51-57 45-174 34-137 74-122 12-10 9 2 38 21 100-7 13M1965 3555l115 66 118 78 34 31 9 29 100 141 161 158 158 128 113 121 234 408 171 89 208 61 62 8 67-65 10 11-40 44-53 110-33 115M1965 3555l179 103 48 65 82 157 120 188 126 320 14 45 163 219 73 108 80 92 71 156 18 166-155 158-64 314 29 39 69 179 3 26 46 18 28-34 5-18 10-11 77-56 0-5 24 8M1965 3555l40 23 250 82 472 328 70 14 45-9 116 71 68 51 138 75 37 16 63 41 140 119 88 51 345 23 31-18 86-34" stroke="#3f4fc0" stroke-width="5.5"/><path d="M1965 3555l123 71 171 133 0 82-127 455-4 29-33 53-338-201-218-83-59-46-42-96-16-51 5-20 33-34 176-84 35 3 184-93 28-36 88-52 13-21 12-9" stroke="#e03c28" stroke-width="8"/><path d="M1965 3555l300 173 170 138 110 410 77 112 46 37-7 12 2 15-115 15 1 8-51 120 16-5 11 17 2 21 25 88 12-9-10-13-6 2-14-16 4 4 18-10 77 9-24-158-13-20 5-33 19-40-1 33-48 90" stroke="#3f4fc0" stroke-width="5.5"/><path d="M1965 3555l383 218 138 94 136 43 124-5 67-15 144-264 5-71" stroke="#e03c28" stroke-width="8"/><path d="M1965 3555l76 44 340 231 61 46-16 29 31 83 38 165 27 216 7 128-23 125-19 204-18 81-108 372-143 116-16-17-114-68-90-8-205-51 279-31 33 29 1 6 5-10 16-8-3-12M1965 3555l145 87 840 463 374 71 240-67 146-97 63-21 156 35 43 1M3938 4166l-9-7-8 17 14 83 4 4M3946 4266l-15 12" stroke="#3f4fc0" stroke-width="5.5"/><path d="M1965 3555l204 117 240-117M1965 3555l87 50 14-50" stroke="#e03c28" stroke-width="8"/><path d="M1965 3555l407 234 160 126 200 322 26 73 177 243 117 115 191 150 96 66 22 9-21 12 186-315 6-43 24-74-43-84-23-59 4-98-43-114-20-33-34-13-14 56-12 3M1965 3555l492 283 71 70 176 86 538 60 72 14 18 9 15 0 174-49 115-22 114 6 225-111" stroke="#3f4fc0" stroke-width="5.5"/><path d="M1965 3555l217 135 123 94 99-110 17-30 24-89" stroke="#e03c28" stroke-width="8"/><path d="M1965 3555l60 34 707 348 46 37 44 47 333 104 12 24 29 94 71 294 292 638-10 80-22 53-23 37-49 61-16 66 30 88 33 22 1 9-8 22-24 19-13 22-4 16-9-3-6-11M1965 3555l188 116 396 294 174 253 176 221 119 17 124-3 342 26 406 172 84 59M1965 3555l726 418 276 133 202 110 76-15 87 1 70-77 189-112 131-50 46 1 53-10 58 4 130 26M1965 3555l693 407 51 12 614 232 167 44 137 27 355 152" stroke="#3f4fc0" stroke-width="5.5"/><path d="M1965 3555l69 40 130 37 191 83 277 95 171 17 102-23 99 18-3-55-15-104-89-8-154-100" stroke="#e03c28" stroke-width="8"/><path d="M1965 3555l91 52 214 357 78 243 80 297-24 180-66 935 2 259-14 141-3-2 174 37-4 39-21 68 2 47 18 25M1965 3555l252 145 174 114 371 176 93 58 23 21 53 59 87 222 54 187 50 144-113 46-115 38-133 87-428 309-297-217-17 11-8 11-18-2 17-44 13-8 20 3M1965 3555l60 35 140 211 148 160 45 66 20 137 30 144 180 217 144 232 52 72 153 65 46 27 39 9 148-69 3-6-4-79 18-60 104-252 14-46 14-97 3-105-19-9-36-82 4-30-1 16 54 107M1965 3555l85 49 120 41 243 378 22 27 56 49 106 153 256 115 150 121 49 67 43 29 37 15-13 2-141-48-39-35-311-148-109-66-21-8-99-65-99-14-5-11M1965 3555l93 53 157 62 211 72 324 58 185 93-5 14-1 164-100 468-76 628 0 36 49 194 38 53 67-16 75-25 32-23 31-61 10 0 50-28 65 13 13-10M1965 3555l263 152 478 305 313 281 231 303 89 340-14 131-103 90-93 212-19 110-17 17-18 28-135 66-40 13-12-6-34 7-11 45 11-6 38-46-3 4 3 1 4 25" stroke="#3f4fc0" stroke-width="5.5"/><path d="M1965 3555l106 61 75 53 69 56 342 168 393 235 246 196 88-72 525-471 175-143" stroke="#e03c28" stroke-width="8"/><path d="M1965 3555l162 97 172 84 67 45 551 184 396 65 43 0 81 13 25 18-17-56-10-153 7-29 41-47 12-7 24-1 3 74 36 118 26 57 21-22 7 9 43 136 4 70-13 56-57 136-29 51 15 12 11 20 11 8 16 2 8 10-5-2" stroke="#3f4fc0" stroke-width="5.5"/><path d="M1965 3555l13 7 218 40 936 203 681-79 79-19 109-1" stroke="#e03c28" stroke-width="8"/><path d="M1965 3555l471 327 222 66 353 151 39 23 37 83 14 133-49 63-346 293-123 123-56 45-143 85-258 49-147 41-93 31-61 27-8 7-18 34 6 3 26-37-51-25-2-17 37-1" stroke="#3f4fc0" stroke-width="5.5"/><path d="M1965 3555l10 6 532 76 1-23-82-59" stroke="#e03c28" stroke-width="8"/><path d="M1965 3555l234 135 39 27 194 226 115 177 561 681 457 644 75 86 200 204 109-28M3949 5707l-46-37-16 22 2 55-15 105 1 7 20-16M1965 3555l472 272 122 171 147 146 81 120 166 174 213 193 42 88 120 194 36 38 176 128 35 48 78 149 4 51-12 30-13 14-15 147 2 16 35 32 17 22 182-87 31 8 26-26 44-61M1965 3555l380 229 104 14 252-26 209-11 63 8 130 51 152 79 397 188 39 37 113 63 34 65 47 68 33 73 41 171M1965 3555l193 85 69 87 116 97 139 77 27 20 74 0 310 129 215 79 53 28 31 38 31 54 89 88 193 110 47 35 40 80 90 81 41 58 0 21-38 85 32 59 0 18-49 66-20-4 1-19 10-27 34-65 75-99 8-22 19-2-7-60" stroke="#3f4fc0" stroke-width="5.5"/><path d="M1965 3555l54 35 209 114 112 40 132 59 11 13 155 59 176 81-47-10-45-169-2-44 27-84 15-12-4-40 4-42" stroke="#e03c28" stroke-width="8"/><path d="M1965 3555l87 45 351 210 196 36-79 142-59 149-3 122 33 67 146 216 14 33 28 91 52 120 75 119-20 115 21 147 42 72 60 44 119 48 35 56 60 175-6 79-12 78-28 43 0 82 8 35 0 32-13 26-6 3 3-12M1965 3555l410 236 111 30 141 110 164 105 158 70 287 88 270-164 90-46 73 11 261-11 431 143M1965 3555l348 200 17 14-19 125 5 194-126 226-62 58-41-47-78-59-18-61-23-28-4-2-1 31-14 9 2 7-12 34-40 2-47-29-69-28-3-108 38-35 138-73 19-14 12-1-16 14 0 20M1965 3555l99 57 114 80 27 26 40 25 203 107 303 179 159 3 126 14 203-29 90 0 564 63 187 50M1965 3555l212 122 164 69 13 296-54 228-6 47 62 209 59 39 101 26 52 20 193 41 78 31 232 74 63 110 42 35-1 7-10-3-5-24 108-89M1965 3555l228 118 111 74 185 141-37 245-60 264-17 49 11 122-56 368-18 93 3 51 32 210 22 45 79 27 55-32 26 14 25 6 128 67 32 9 159 17 63-4 14-2 4-5 82 19 4 7-89 19" stroke="#3f4fc0" stroke-width="5.5"/><path d="M1965 3555l107 60 95 21 105 9 306-90" stroke="#e03c28" stroke-width="8"/><path d="M1965 3555l28 16 29 35 35 534 119 351 54 128 51 184 90 75 98 99 73 82 68 43 130 214 12 30 65 73 19-9 107-145 57-111 28-30 19-38-9-75 4-30 67-152-28-70-5-21 5-38-1-12-8-1" stroke="#3f4fc0" stroke-width="5.5"/><path d="M1965 3555l356 114 157-22 109 29 55-69 54-31 16 23-4-17 33 65 65 69 217-20 60 33 64 77 140-7 81-11-6-1 2-31-6-4 0-10-24-54-13-10-10-24 1-99" stroke="#e03c28" stroke-width="8"/><path d="M1965 3555l183 255 332 214 171-20 45 8 34 176 7 91 37 109 122 163 322 326 92 66 84 95 56-40 99-52 126-110 47-2 32-45 33-61-4-10 3-73M1965 3555l126 72 143 54 351 102 327 78 33 5 60-2 65-8-7-42-181 11-140 60-95 27-39-9-29 16-26 7-38-1-225 181-64 115-63 91-55 116-64 186-29 36-36-2-7-6 6-1" stroke="#3f4fc0" stroke-width="5.5"/><path d="M1965 3555l78 45-2-45M1965 3555l123 71 51 16 177 128 327 116 226 88 178 26 145-54 314-144 347-63 64-65 47-39" stroke="#e03c28" stroke-width="8"/><path d="M1965 3555l81 47 292 207 711 177 113 14 39 18 178 100 225 142 132 160 41 84 48 82 46 105 8 32 255 206" stroke="#3f4fc0" stroke-width="5.5"/><path d="M1965 3555l216 124 67 32 198 38 501 159 115 5 112-17-41-116-39-225" stroke="#e03c28" stroke-width="8"/><path d="M1965 3555l110 94 41 69 102 133 70 111 56 154 348 374 309 270 59 45 278 287 142-48 45-20 179-12 10-8 3-139 47-124-3-46 9-50-68 77M1965 3555l284 178 125 97 102 85 84 103 98 102 506 377 134 106 142 122 158 102 161 86 105 94 17 5 155-162M1965 3555l92 53 424 201 80 18 53 35 22 16 236 330 322-83 60 69 81 126 55 219 29 140 39 137 58 195 26 20-150 44-43 38-4-14-30-8-37-3-108-41-17-25-58-22-27-20-16-24" stroke="#3f4fc0" stroke-width="5.5"/><path d="M1965 3555l212 122 498 86 48-6 9-42 50-160" stroke="#e03c28" stroke-width="8"/><path d="M1965 3555l14 8 194 60 43 9 196 64 172 43 443-29 212-97 161 24 178 4 307 30 93 20" stroke="#3f4fc0" stroke-width="5.5"/><path d="M1965 3555l105 60 322 56 67 7 131-5 347-49 289-34 180-35M1965 3555l620 357 60 17 204 91 321-64 19-8 126-81 19-24 7-113 15-23-145-95-31-57" stroke="#e03c28" stroke-width="8"/><path d="M1965 3555l166 79 696 249 132 116 47 71 56 254 14 161-57 137-57 109-50 195-17 21-80 71-91 67-189 41-30-45-15-31-361-16-176 30-9-10-25-54-49-55" stroke="#3f4fc0" stroke-width="5.5"/><path d="M1965 3555l149 93 597 9 151-23 641-17 241-52 162 56 45-1M1965 3555l99 57 42-57" stroke="#e03c28" stroke-width="8"/><path d="M1965 3555l113 58 144 109 174 84 29 189-139 45-121-3-121-22-30 4-116 2-233-28-47 1-18 1-80 27-130 26-74-53-261-56-165 21-25 25-53 94 3-27 17 18 3-34-5-28-5 10M1965 3555l29 17-6 62-53 129 34 267-44 251-122 116-372 197-42 12-60 35-63 88-167 101-115 102-37 65-18 18-92 50-35 11-86 91-22 3-28-10-112-12-33 4-22-20 22-67-23-90-18-29-20-70M1965 3555l182 105 169 90 205 155 125 106 69 151-72 76-23 59-15 50 15 100-97 49-406-30-58-112-15-51-15 316 12 25 0 11-26 63-20 34-2 27 31 164-3 10 19 27-2 7 24 8 2-13-28 11" stroke="#3f4fc0" stroke-width="5.5"/><path d="M1965 3555l35 20 234 70 339-40 245-50M1965 3555l38 22 177 22 105-12 131 3 225-6 87 4 105 51 54 3 89-3 27-6 75-78" stroke="#e03c28" stroke-width="8"/><path d="M1965 3555l95 55-255 261-21 120-2 104-15 61-5 59-15 37-57 121-205 241-26 41-109 128-81 40-67 4-40 9-148 65-123 37-96 23-7 9-25 113 18 51 162 93 51 41 71 10 136 48 29 33 19 1 7 16 14 5M1965 3555l41 23 390 265 287 98 283 23 61 66 253 243 13 26-9 177 46-7 110-49 71-138 119-176 66-82 63-41 41-19 20 28" stroke="#3f4fc0" stroke-width="5.5"/><path d="M1965 3555l289 166 116 48 260-5 49 17 176-14 83 33 571-245" stroke="#e03c28" stroke-width="8"/><path d="M1965 3555l23 13 146 125 469 454 410 113 444 39 17-2 84-33 188-61 126-45 47 4 53 16M1965 3555l467 269 188 89 177 74 116 100-14 37-37 31-73 5-59-62-48 33-34 2-74 16-1 31-10 3 7 13 50 7 14-18-1-21-7-6-21-5-150-81-74-68-3-13 66-68 29-38 16-5" stroke="#3f4fc0" stroke-width="5.5"/><path d="M1965 3555l81 46 194 31 207-77" stroke="#e03c28" stroke-width="8"/><path d="M1965 3555l63 36 367 99 360-31 123 32 463 29 66 28 52 30 152 25 43-5 15 8 40 48 138 39-36-6-105-5-74-291-35 2-52 132-8 1M1965 3555l1025 605 201 55 364 170 233 96 93 45 27 19 34-9M3957 4461l-24-34-11-50 1-34-12-68 45-69M3963 4138l-79 4-98-10-59 2-9-8-3 4M1965 3555l283 163 100 135 163 117 41 37 193 95 63 69 55 72 194 105 133 100 75 74 69 92 24 64 213 249-45-11-8 65-178 96-6 46-48 133 10 61-5 32 6 17-34 126-10 18-17 16-24-5M1965 3555l59 34 661 425 115 23 418 203 132 50 80 19 30 19 146 23 66 22 69-99 58-34 120-18 82-7M1965 3555l92 53 63 17 45 151 146-33 163-25 24 1 405 76 128-15 124 45 145 23 8-10 19-2 123-2-10 16 0 45-30 102-21 13-144 20-184-25 1 11-59-27-41 36 7 0-25 2-16 11-13-18 10-3M1965 3555l96 55-53 668-1 60-153 634-6 59-38 155-60 162-156 16-48 0-69-39-64-27 70-68 12-30 263-441 30-21 26 13 4 7-7 49-11 25 4 7-2 17-18 36 5 9-1 13" stroke="#3f4fc0" stroke-width="5.5"/><path d="M1965 3555l526 303 514 80 125-41 36-38 37-166 107-122-3-4 27 9-21-6 8-15M1965 3555l68 40 277 124 201 65 397 26 172 26 67 20 256-27 75 9 147-84 14-22 71-67 1-12-34-29-14-43-38-1-7 7-12-32" stroke="#e03c28" stroke-width="8"/><path d="M1965 3555l164 95 189 91 476 187 302 78 58 29 76 52 193 116 179 103 69 32 38 35 50 67 51 85 90 122 186 182M1965 3555l488 281 45 41 110 221 347 357 105 306 36 41 115 210 115 78 35 3 37-11 8-7-21-17-19 11-36 39-56 49 13 9-34-16-31-57 15 15 11-23 21-14" stroke="#3f4fc0" stroke-width="5.5"/><path d="M1965 3555l84 48 47 46 50-18 645-14 34 12 120 27 214 26 111-53 52-39 25-6 6-8-5-21" stroke="#e03c28" stroke-width="8"/><path d="M1965 3555l305 176 63 26 302 159 303 211 70 113 32 23 191-22 17 4 204 90 23 17 26 32 23 14 92-12 331 45" stroke="#3f4fc0" stroke-width="5.5"/><path d="M1965 3555l163 94 131 101 191-195" stroke="#e03c28" stroke-width="8"/><path d="M1965 3555l796 458 122 91 402 347 258-42 49-19 109-116 27-41 38-81 44-248 7-176-34-23-167 26-3 5" stroke="#3f4fc0" stroke-width="5.5"/><path d="M1965 3555l516 297 503 234 247 145 160-19 21-35 6-84-12-68-2-336-20-134M1965 3555l224 129 108 39 360-135 70-33" stroke="#e03c28" stroke-width="8"/><path d="M1965 3555l459 264 35 16 644 447 64 158 111 388-18 156-12 42-230 399-28 56-11 41-14 8-65-11-2 63-21 17-14 4-53-2-31-16-141-101 1-24M1965 3555l159 92 59 22 146 125 18 24 269 524 44 152 69 155 138 216 14 40 84 96 196 251 152 149 15 52 5 72-142 96-79 63-100 66-105-31-94-35-75-48-53-18-2-5 8 1-1-14-7-2" stroke="#3f4fc0" stroke-width="5.5"/><path d="M1965 3555l223 129 193-14 500-60 90 12 62-29 54-12 72-26" stroke="#e03c28" stroke-width="8"/><path d="M1965 3555l659 379 44 67 12 124 33 211 42 219-16 36-32 40-18 125-139 105-189 162-10 20-106 144-82 32-115-7-15-16-36 16 10-3 38-32 7-3 15 6 24-12 46-35-22-5" stroke="#3f4fc0" stroke-width="5.5"/><path d="M1965 3555l177 103 82 14 157 10 457-35 225-66 57-26" stroke="#e03c28" stroke-width="8"/><path d="M1965 3555l540 305 124 101 41 370-5 120 8 55 11 17 170 142 1 10 12 20 231 290 82 71 77 0 52 24 17-6 25 11 41-20-9-88 13 1-10 6 2 10-31 23M1965 3555l8 5 3 81-8 39-47 116-5 127 6 50-9 24-79-27-184 136-505 49-310-7 6-10 0 3-60-10 5 20 13-7 60-1 7 12 40-8 6 3 17-3-23 64" stroke="#3f4fc0" stroke-width="5.5"/><path d="M1965 3555l130 72 224-72" stroke="#e03c28" stroke-width="8"/><path d="M1965 3555l867 499 35 13 360 301 70 126 35 331 17 13 33 110-32 40-126 125-56 41-206-91-46-8-28-4-78 18-45 25 51 54 101 13 24-10 68 51M1965 3555l38 22 151 119 213 45 171 95 49 10 470-44 189 7 357-39 63-60-5-7 3 19-1-4 20-5 35 120-11-69-84-87 8 44-26 46 2 28M1965 3555l214 125 52 22 315 162 77 24 221 43 172 60 140 22 291 116 10 52-5 119-13 88-1 174 13 75 23 271-114 251 8 32 7 81 28 34 71 32-4 10 45 19M1965 3555l323 186 59 47 134 75 397 141 287 41 198 10 71 8 69 243 1 25-36 469-20 146-96 128-75 132 8 17-42 6 17-2 56-24-49 6-7-1-6-11M1965 3555l65 38 64 71 232 221 625 508 6 20-130 80-172-17-126 27-146 14-318-67-190 10-70 27-67 20-178 118-39 46-76 205-1 10 41 33-4 20-15 18-26-2" stroke="#3f4fc0" stroke-width="5.5"/><path d="M1965 3555l184 113 30 26 32 20 94-99-6-23 1-37M1965 3555l25 15 163 31 40-46M1965 3555l74 43 97 38 106 41 109 34 199 86 125 38 30 15 56-59 136-28 125 7 498-37 144 24 231-202M1965 3555l251 144 350 150 138 37 150 12 390 48 49 2 233 66 72 123 12 46-5 34-8 14 14-425-20-154 1-31-36-66" stroke="#e03c28" stroke-width="8"/><path d="M1965 3555l138 79-138 528-11 227-12 54-34 3-87 19-276 95-807 294-65 50-78 78-107 180-42 53-69 3-84 25-54 79-1-15-13 7 21-16" stroke="#3f4fc0" stroke-width="5.5"/><path d="M1965 3555l398 229 133 47 86-7 503-102 119-30 25-7 243-116 66-14" stroke="#e03c28" stroke-width="8"/><path d="M1965 3555l137 79 647 321 169 55 46-6 64 0 140-29 147 11 74 24 155 21 61-13 28 0 92 41 154 34 25 2 118 35M1965 3555l85 49 218 210 522 322 42 7 97-1 103 11 69 15 125 134 222 174 22 27 92 147 136 240 14 11-46 146-35 157-7-11-37 44-90 71-28 5-2-3 67-15 6-30 67-25M1965 3555l42 24 257 190 200 137 54 31 53 15 60 7 307-38 108-7 73 24 36 16 250 154 152 211 75 91 59 54 25 54 16 67-1 42-12 80-33 62-67 193-23 88 39 10 11-40 11 52-77 54 26 13" stroke="#3f4fc0" stroke-width="5.5"/><path d="M1965 3555l28 16 60 19 394 89 310 40 556-73 150-91M1965 3555l56 32 291 345 83 191 0 14-17 43-18 125-57-29-53-49-88-92-91-83-76 1-171 27-49-5-315-137-41-36-23-30-33-1-21-27-57-134-10-73 3-82" stroke="#e03c28" stroke-width="8"/><path d="M1965 3555l91 56 18 20 149 208 81 270 7 47-10 80 38 223 84 107 153 158 252 199 75 105 80 98 24 22 193 381 5 62-12 50-8 106 14 12 24-4-23-10-16-16M1965 3555l500 287 229 160 87 74 169 189 231 57 165 21 100-30 19-11 77-74 26-39 127-130 253-199M1965 3555l401 231 60 10 177 56 123 15 309 169 12 219-19 9-81 74-32 19-55 179 40 184 6 79 2 208 29 54 47 42 78 27 36 20 2 21-63-86 3 56 7 38 14 25 5-16-11 0M1965 3555l227 131 86 43 326 103 287 68 57 35 132 207 12 121 82 157 26 40 115 277 21 74-4 56 5 62 164 69 208 59 115 27-1 12-46-84-11-9M1965 3555l137 79 270 36 15 7 325 59 346 46 11 0 55-32 21-2 111 130 5 28-35-23-48-23-24 1-320 235-25 8-95 8-14 21-31 32-1 11 56 32 29 41 98-3 27 28 17-4 3-11 23 15M1965 3555l474 267 167 51 113 100 296 228 490 305 52 20 91 44 96 19 100-90 46-80 25-19 6-54-6-6 7-9 26-68M3969 4240l-49-29-91-32-16-11-128 38M1965 3555l155 89 286 64 400 65 109 25 187 153 36 18 20 58 86-21 23 19 18 33 45 30 64 22 74 12 40 11 120 144 38 30 63 14 17 0-25 13-90 7-6 7 14 10-16-1-10-8M1965 3555l511 287 264 156 417 275 14 32 3 29-5 83-164 314-70 47-290 102-201 153-137 118-74-10-20-73-52-17-164-163-9-1-14-28" stroke="#3f4fc0" stroke-width="5.5"/><path d="M1965 3555l153 88 68 27-3-13 6-13 30-31 63-51 2-7" stroke="#e03c28" stroke-width="8"/><path d="M1965 3555l323 152 242 377 33 71-8 75-4 519-172 171-56 161-26 48-17 57-44 94-23 33-83 268 1 7 13-23-8-18-5-2 2-5M1965 3555l158 91 251 50 639 601 44 48 177-55 83-33 141 14 89-45-7-47-80 185-46 74-65 87-47 145-46 115-3 39-67 101-22 39-10 29 47 32-24 79 7 45 30 27" stroke="#3f4fc0" stroke-width="5.5"/><path d="M1965 3555l69 40 184 172 60 67-16-29-15-1-61-249M1965 3555l84 50 302 131 100 73 102 25 99-17 115 2 64-16 396-131 48-22 217-27 93-16 134-52" stroke="#e03c28" stroke-width="8"/><path d="M1965 3555l911 516 379 155 98 75 403 357 56 166-6 11 5 69-25 44-174 223-71 46-70 100-117 57-99-24 37-23 9-13 33 5-17-4" stroke="#3f4fc0" stroke-width="5.5"/><path d="M1965 3555l288 166 121 59 108 82 212 96 116-24 53 49 63 227 6 5 50-31 77-79 125-112 213-164 166-103 116-135-3-36M1965 3555l427 246 215 81 135 33 44 15 199-277 65-98" stroke="#e03c28" stroke-width="8"/><path d="M1965 3555l410 236 660 431 250 143 161 82 139 130 48 54 180 174-26 27-37 75-75 116-22 28-17 36-1 16-18 55-51 94-12 160 9 161" stroke="#3f4fc0" stroke-width="5.5"/><path d="M1965 3555l432 249 143 118 126 40 191 78 76 63 142 132 221 131 46-8 120-100 173-154 24-27 39-59 46-165-23-27-5-12 12-153-39-74-4-32" stroke="#e03c28" stroke-width="8"/><path d="M1965 3555l139 66 174 70 152 9 345-58 440 95 83 12 243 81 14 375-92 222 11 19-17 43-35 127-22 102 5 76 19 34 254 111 12 11 51 84 37 36 19 38 8 30-4 7 6-1-3 8 43 32 4-4M1965 3555l135 72 71 66 318 176 115 55 165 110 403 307 94 63 136 114 65 13 93-26 293 7 59-75-59 11-130 65-55 9-44 20-24 25-16 9-29-20-11-67 0-41 12-12 2-15-18-3 10-20M1965 3555l204 117 155 21 61-6 161-33 77-22 22 9 323-10-1 35 105 111 27 112 107 92-25 105 5 29 38 57-6 2-16-40-14-6-138-20-50-29-52-83-18-70M1965 3555l13 7 145 203-50 160-86 156-79 109-35 425 29 326-35 135 0 17-136-36-40-32-24 32-98 170-79-34-102-35-88-338-13-12 2-27 19 10M1965 3555l135 65 362 210 105 157 157 285 156 86 184 33 247 90 55 36 76-38 29-32 32-103 63-18 2 26-84 73-292-132-4 10 8 21-12 48-60 28 16 21-12 23M1965 3555l330 257 121 125 141 177 222 379 20 61 23 147 26 538-9 149 32 37 82-272 35 7 20 16 64 18-35-127-19-37-55-37M1965 3555l114 66 110 83 250 164 78 155 103 182 22 117 23 278 112 59 28 20 127 52 131 29 14 9 20 22-18 455 36 18 209 78 18 13 3 33-28-57 19 4M1965 3555l6 3 397 15 98 40 78 13 79 30 65 65 82 142 154 341 52 93 65 87 78 82 36 44 64 21 15 34 103 96 30 38 48 0 25-20-9-15-15-9-9-86-17-99-22-27-22 1-67 27-15-6-55-41-12-15-26-8-58 39-1 9 23 38 19 80 1-10M1965 3555l810 466 44 12 113 43 157 46 181 10 121 26 476 24 22-14-123 12-75-96-73-60-44-43-121 52-192 150-68 71-13 28 59 1 3-4 56-8 40-27 15 15M1965 3555l79 45 414 201 18 15 174 218 19 32 43 55 246 308 38 26 34 17 84 65 14 99 43 22 36 25 269 130 8 14 3 29 38 64 101 123 76 11-4 24-22 1-22 27M1965 3555l38 22 652 188 109-44 10 3 375-11 130-30 140-72 42-34-223 229-51 61-13 76-111 45-164 122-105-25 27 34 9-2 34 13 16 13 93 24 100 0 5 12" stroke="#3f4fc0" stroke-width="5.5"/><path d="M1965 3555l135 78 130 129 243 111 188-98 487-207 76-2 61-11M1965 3555l105 61 25 19-118 122-24 1-48-28-100-34-76-38-163-103" stroke="#e03c28" stroke-width="8"/><path d="M1965 3555l69 40 266 171 186 86 221 26 161-14 114-47 52-1 289-61 37 23 51 20 39 7 185-7 10-5-9-13-6 2-215-100-9 12-18 42 22 3-18-3-1-6 37-51-12 0" stroke="#3f4fc0" stroke-width="5.5"/></g></g>
<path d="M1.5,355.5V621.8" stroke="#a0a0a0" stroke-width="1"/>
<path d="M1.5,621.8H390.5" stroke="#c0c0c0" stroke-width="1.2"/>
<path d="M390.5,355.5V621.8" stroke="#707070" stroke-width="1"/>
<path d="M1.5,355.0H390.5" stroke="#dcdcdc" stroke-width="0.6"/>
<path d="M2.0,355.5H390.5" stroke="#e8907f" stroke-width="1" stroke-dasharray="6.2,2"/>
<text x="4.8" y="365.9" font-size="11" fill="#e8403a">Al</text>
<text x="388.5" y="364.7" font-size="11" text-anchor="end">0.0 nm</text>
<text x="388.5" y="415.3" font-size="11" text-anchor="end">420.0 nm</text>
<text x="388.5" y="468.3" font-size="11" text-anchor="end">840.0 nm</text>
<text x="388.5" y="522.3" font-size="11" text-anchor="end">1260.0 nm</text>
<text x="388.5" y="575.3" font-size="11" text-anchor="end">1680.0 nm</text>
<text x="16.7" y="619.6" font-size="11">-1223.3 nm</text>
<text x="98.8" y="619.6" font-size="11">-611.7 nm</text>
<text x="177.9" y="619.6" font-size="11">-0.0 nm</text>
<text x="255.7" y="619.6" font-size="11">611.7 nm</text>
<text x="329.2" y="619.6" font-size="11">1223.3 nm</text>
<clipPath id="cld"><rect x="394.5" y="355.5" width="389.0" height="266.3"/></clipPath>
<path d="M433.5,355.0V621.8M511.5,355.0V621.8M589.5,355.0V621.8M667.5,355.0V621.8M744.5,355.0V621.8M394.0,408.5H783.5M394.0,461.5H783.5M394.0,515.5H783.5M394.0,568.5H783.5" stroke="#cccccc" stroke-width="1" stroke-dasharray="1,1" fill="none"/>
<g clip-path="url(#cld)"><g transform="scale(0.1)" fill="none" stroke-linejoin="round"><path d="M5895 3555l152 41 496 72 206 26 210 10 33-6 315-143" stroke="#e03c28" stroke-width="8"/><path d="M5895 3555l128 34 388 142 117 96 164 97 204 46 183 85 140 41 205 23 222 39 560 38M8043 4469l-179 223-263 409-63 109-36 38-203 153-71 205-236 17 3-65-6-3-35 26M5895 3555l1317 352 785 40M5895 3555l198 53 119 208 223 270 78 111 43 118 34 155-155 208-165 546-183 398 37 72 58 58 57 48 227 57 51-13 101-9 68 14 217 98 72 3 75-56 47-62 3 84-44 94 6 70 8 19 146 50 44-32 13 8M5895 3555l204 54 910 386 29 24 36 322 42 194 288 770 23-6 208 81-29 195-80 120-27 84-11 77-99 70-14-1-141-40-24-16-19-21-90-59-180-136-25-29 34-19 32 7-1-13-5 7-34-1-10-27-87-49 3-8-11-28" stroke="#3f4fc0" stroke-width="5.5"/><path d="M5895 3555l59 16 251 49 148 13 112-78M5895 3555l140 37 170 28 235 4 72 15 144 3 33 11 130 21 245 95 110 77 31 13 286 165 71 46 228 69 40 26 114 55M5895 3555l20 5 101-5M5895 3555l54 14 34 1 154-15M5895 3555l183 46 312-46M5895 3555l54 14 269 92 167 62 93-142 13-26M5895 3555l272 58 91 39 289 45 39 12 56 8 354 74 74 27 175 49 28 30 46 4 98-21 184-55 21-17 119-253" stroke="#e03c28" stroke-width="8"/><path d="M5895 3555l414 110 305 144 115 75 447 346 226 189 63 64 177 144 15 142 116 202 76 466 212 398M5895 3555l92 25-130 391-247 582-37 75-1 11-135 214-93 111-344 241-161 104-619-22-34 13-207 114-45 19-277 300M5895 3555l28 8 406 185 106 66 260 98 559 493 116 206 248 183 60 27 181-25 158 70" stroke="#3f4fc0" stroke-width="5.5"/><path d="M5895 3555l296 79 496-79" stroke="#e03c28" stroke-width="8"/><path d="M5895 3555l162 51 321 123 460 1204 51 119 252 388 67 55 44 4-16 44-20 19-239 113-195 102-148 82-60 44-2 28 67 178 318 522" stroke="#3f4fc0" stroke-width="5.5"/><path d="M5895 3555l71 19 40-19M5895 3555l197 53 372 140 78 18 167 20 187 32 265 37 95-61 54-13 165-4 301 62 34 67 22 86 37 41M7873 4019l-74-77-55-39-95-93-99-134-45-79-16-42M5895 3555l88 22 80-9 188 10 143-23" stroke="#e03c28" stroke-width="8"/><path d="M5895 3555l50 13 62 37 180 139 599 485 30-31 224-127 43 9 64-20 590 89 294 30M5895 3555l1033 276 117 38 195 80 245 68 64-1 303-66 228-111" stroke="#3f4fc0" stroke-width="5.5"/><path d="M5895 3555l201 54 289 132 250 90 178 35 109 8 79-19 321-133 195-54 195-106 176 4M5895 3555l213 58 195 67 73 14 228 2 130 54 99 28 96 18 189 11 160 27 227 79-50-215 23-143" stroke="#e03c28" stroke-width="8"/><path d="M5895 3555l64 17 522 96 174 144 341 373 615 806 22 23-48 306-7 394-15 70-87 309-108 844" stroke="#3f4fc0" stroke-width="5.5"/><path d="M5895 3555l306 156 189 115 225 184 93 81 81 61 348 196 49 14 29 18 35-10 21 0 129-25 72 3 104-7 169 36 47-65 36-22 1-13 38 25M7865 4299l-7-34 25-31" stroke="#e03c28" stroke-width="8"/><path d="M5895 3555l170 45 329 139 320 92 81 9 354 300 45 52 517 455 329 440" stroke="#3f4fc0" stroke-width="5.5"/><path d="M5895 3555l241 71 100-41 147-25 49 47 64 52-43 17-50 11-4 12 29 17 53 18 39-2 136-120 6-57" stroke="#e03c28" stroke-width="8"/><path d="M5895 3555l662 177 234 93 264 250 307 196 300 206 222 185" stroke="#3f4fc0" stroke-width="5.5"/><path d="M5895 3555l220 59 77 28 386 239 203 160 45-40-2-134 19-68 53-153 61-91M5895 3555l234 89 108 46 285 97 114 50 150 34 76 41 65 23 23 6 85 4 337-390M5895 3555l541 144 217 13 213 35 188 14 151-11 228-43 206-86 125-66" stroke="#e03c28" stroke-width="8"/><path d="M5895 3555l137 37 1207 469 285 133-422 254-83-72-106-7-76 16-520 23-177-49-91-20-117 207-173 57-166 96-76 28-12 8 2-7 156-21 47 5" stroke="#3f4fc0" stroke-width="5.5"/><path d="M5895 3555l417 121 430 140 164 36 103 33 114 3 89 15 289-111 225 5-202-184-63-43-35-15M5895 3555l241 65 74 14 217 0 130 12 255 42 190 15 101-21 115-55 109-72" stroke="#e03c28" stroke-width="8"/><path d="M5895 3555l151 40 857 422 41 14 1686 1105M5895 3555l142 38 668 293 236 112 32 10 63 62 110 184 55 61 197 117 91 83 28 85-34 354-20 90-5 196-5 24-29 44-103 126-349 412-37 83-3 26 13 11-17 30-111 164-135 127" stroke="#3f4fc0" stroke-width="5.5"/><path d="M5895 3555l44 10 247 31 181 8 39 9 220-17 85-41M5895 3555l112 30 194 65 112 31 105 58 60 22 214 105-3-15-99-151-140-145" stroke="#e03c28" stroke-width="8"/><path d="M5895 3555l106 34 438 287 133 116 387 403 63 51 532 514-9 36-18 28-1045 500-114 20-64-14-92 234 51 111 277 269-7 110M5895 3555l1101 292 71 14 115 83 253 341 2 44-44 14-78 7-565 97-153 8-162 63-94 22-149 54-413 71-260 124-272 78-150-26 14-55 108-181-26-169-55-143" stroke="#3f4fc0" stroke-width="5.5"/><path d="M5895 3555l78 21 196 94 262 109 45-31 70-34 105-65 28-23 127-71M5895 3555l123 33 156 56 664 164 219 35 69 6 122-118 77-67 67-109" stroke="#e03c28" stroke-width="8"/><path d="M5895 3555l209 56 66 67 125 110 75 21 387 69 225-12 46-7 52-15 319 120 320 193 310 147" stroke="#3f4fc0" stroke-width="5.5"/><path d="M5895 3555l245 62 215-10 44 4 321 85 257 24 83 23 69 54 129-18 64-44 11-30 27-36-6-114M5895 3555l105 28 200 13 27-11 27-30" stroke="#e03c28" stroke-width="8"/><path d="M5895 3555l411 110 28 217-199 631-17 80-149 497-101 506 8 287-22 80-68 309M5895 3555l461 123 141 50 164 101 716 377 116 47 74 15 587 414M5895 3555l36 10 1131 173 48 23 110 36 449 171 442-11M5895 3555l317 85 437 236 397 316 243 86 7 9 666 456M5895 3555l205 55 687 224 211-80 129-30 487-14 163 30 287 117M5895 3555l712 205 44 5 1190-97 26 11M7941 4790l-126 190-74 82-48 31-9 60-97 282-20 69 16 1 71-33 31-38 71-24" stroke="#3f4fc0" stroke-width="5.5"/><path d="M5895 3555l72 18 126 79 126 34 196 11 136-2 269 11 121 13 80-1 134 16 47 18 103 75 184 163-9 32-38 68 11 51 299 38 242 2M5895 3555l171 46 105 8 301 12 170 2-17-68" stroke="#e03c28" stroke-width="8"/><path d="M5895 3555l148 43 62-5 36 9 10-3 498 200 285 56 405 16 87 46 353 26 476 68M5895 3555l1035 267 212 44 312-1 494 17M5895 3555l194 53 207 251 21 37 1156 1459 145-191 484-339" stroke="#3f4fc0" stroke-width="5.5"/><path d="M5895 3555l182 48 108 51 180 104 37 10 94 6 18-8 222-197 25-14" stroke="#e03c28" stroke-width="8"/><path d="M5895 3555l34 9 524 74 172 114 111 49 47 14 212 104 1109 599M5895 3555l485 130 104 46 414 225 389 201 357 253 722 724M5895 3555l456 122 1043 226 473 626" stroke="#3f4fc0" stroke-width="5.5"/><path d="M5895 3555l579 154 340 105 136 47 203 56 170 68 542 97M5895 3555l458 114 50 4 75 16 429 120 393 76 60 2 145 34 125 35 64 6 169 36 48 23M5895 3555l57 15 232 95 90 9 122 4 96 19 133 12 125-3 196 41 112 14 137 10 212-8 179 19 346-136" stroke="#e03c28" stroke-width="8"/><path d="M5895 3555l198 53 39 25 43 19 117 83 475 367 153 158 972 1378" stroke="#3f4fc0" stroke-width="5.5"/><path d="M5895 3555l131 35 125-35M5895 3555l76 20 217 35 130-14 176-41" stroke="#e03c28" stroke-width="8"/><path d="M5895 3555l525 140 169-122 96 45 177 166 12 32 6 395-68 35-49 2-23 13-97 85-114 155-133 343-48-4-83-71-18-39-339-187-141 24-43 76-157 200-31 29 67 3-38-21 17-5 32 5 53-21-79 73-16-13-8 4-5-6" stroke="#3f4fc0" stroke-width="5.5"/><path d="M5895 3555l135 36 132 28 848 79 64-25 156-102 17-16M5895 3555l98 26 43 3 74-3 150-26" stroke="#e03c28" stroke-width="8"/><path d="M5895 3555l106 28 600 464 124 40 277 57 270 22 334 41 245 59 11 7 163 27" stroke="#3f4fc0" stroke-width="5.5"/><path d="M5895 3555l48 13 138 55 125 16 260 49 276 34 88 26 35-13 84-67 94-113" stroke="#e03c28" stroke-width="8"/><path d="M5895 3555l229 64 195 73 83 42 183 78 26 29 49 100 15 78 176 296 29 139 43 328 13 107 4 116-73 709-44 250-290 396" stroke="#3f4fc0" stroke-width="5.5"/><path d="M5895 3555l35 9 60-9" stroke="#e03c28" stroke-width="8"/><path d="M5895 3555l260 70 283 102 80 14 382 262 267 305 339 327 43 49 396 704M7870 5430l-88 65-80 137-21 10-58 3-99-34-259-133 5 17 28-28-12 10 7 18-6 20 2 273 6 29 4-7-19 5" stroke="#3f4fc0" stroke-width="5.5"/><path d="M5895 3555l35 9 65 36 223 99 204 29 323 29 62 12 36 0 84 10 78 20 78 76 171 141 99 74 98 43 55 40 100 48 82 54 64 50 127 1M7905 4237l-117-136-55-36-149-119-32-18-6-36 4-70 69-252-3-15M5895 3555l89 24 265 139 84 54 236 71 215 122 242 97 50 12 144 18 163 43 264 15 268-13" stroke="#e03c28" stroke-width="8"/><path d="M5895 3555l456 122 611 254 71 16 582 204 494 350" stroke="#3f4fc0" stroke-width="5.5"/><path d="M5895 3555l407 104 164 9 117 13 203 6 302-132M5895 3555l142 34 352 120 40-14 147-84 6-10 74-46" stroke="#e03c28" stroke-width="8"/><path d="M5895 3555l79 21 146 134 509 173 395 117 465 253 342 519 441 490M5895 3555l144 39 90 180 70 113 193 222 182 161 84 147 47 34-12 10 19-18 9-20-14-43-99 38-16 37 35-1 27 24-2 82 25 165-15 107-44 169-40 104-34 2-77-63-29-33-394-298-79-52-16 3 13 5 52 98-12 70M5895 3555l101 29 172 111 138 82 193-11 59 13 123 15 573 143 86 4 846 485M5895 3555l168 45 435 236 126 94 160 100 304 204 177 87 350 281 11 14-48 493-38 18-304-106-54 0-243-57-135-139 12-23-116-32-189-132-47-87-3-72-81-46-4-10 5-12-41-59" stroke="#3f4fc0" stroke-width="5.5"/><path d="M5895 3555l109 35 62 36 229 21 263 74 115 19 98-3 267-32 313-87 186-35 99-28" stroke="#e03c28" stroke-width="8"/><path d="M5895 3555l431 115 988 291 27-2 156-77 110 112 1075 745M5895 3555l1244 332 354 7 279 90 469 74" stroke="#3f4fc0" stroke-width="5.5"/><path d="M5895 3555l60 16 261 14 287 66 65 2 454-33 86-21 114-14 92-30M5895 3555l123 31 220 67 284 21 243-28 38-74 15-17" stroke="#e03c28" stroke-width="8"/><path d="M5895 3555l272 73 165 112 184 91 128 48 294 37 113 104 503 598 549 726M5895 3555l988 223 284 156 534 220 56 29 61 46 218 102" stroke="#3f4fc0" stroke-width="5.5"/><path d="M5895 3555l56 15 34-15M5895 3555l128 32 100-14 814-11 58-7M5895 3555l291 68 89 12 405-9 192-36 367 27 170 28 105 60 16 41 17 8 44-40 22-13 28-31 66-115M5895 3555l285 70 287 78 249 88 794-136 392-92M5895 3555l67 18 193 33 127 39 20 12 126 9 38-3 274 5 354-21 111 2 250-9 172 5 149 26 459 119M5895 3555l39 11 203 81 115 21 131 36 235 34 147 106 54 25 130 53 131 34 34-156-6-93 53-71 86-81M5895 3555l21 6 11-6M5895 3555l100 25 118 44 106 25 95 73 35 18 242-74 196-111" stroke="#e03c28" stroke-width="8"/><path d="M5895 3555l346 92 106 22 98 8 416 220 788 605 300 305M5895 3555l631 165 410 243 191 170 32 22 211-32 637-226M7895 4322l-56 52-30 86-262 284-76 140-35 86-62 124-132 141-27 23-14 32-67 87-22 10 17 10-12 14M5895 3555l693 191 301 150 296 102 364 184 37 24 213 371 15 118-5 61 93 385M7902 5141l-39 22 60 322" stroke="#3f4fc0" stroke-width="5.5"/><path d="M5895 3555l68 19-109-19M5895 3555l75 17 8 7 182-24M5895 3555l95 25 81-2 449 49 70-4 102 12 94-8 48-27 118-45" stroke="#e03c28" stroke-width="8"/><path d="M5895 3555l1401 375 431 73 186 0" stroke="#3f4fc0" stroke-width="5.5"/><path d="M5895 3555l79 21 47 4 131-8 22 66 11 81 170 158 121 140 233 104 40 8-34-103-101-246-34-42-138-110-64-35-103-38M5895 3555l70 19 78 29 336 47 170 2 33 11 46-5 81 2 123 19 67-4 208-83 98-25 3-12M5895 3555l182 49 104 17 200 71 295 54 223 23 52 1 43-7 121-208M5895 3555l296 80 107-7 333 9 117 33 323 119 172 71 66 43 140 108 106 13 324-1" stroke="#e03c28" stroke-width="8"/><path d="M5895 3555l177 47 423 86 296 130 101 38 108 28 312 309 950 87M5895 3555l707 189 187 19 141 67 315 137 530 292 247 207M5895 3555l414 110 188 14 69 16 196 64 170 82 34 30-12 29 8 40 38 104 178 185 173 139 118 141 208 514 134 43 121 6" stroke="#3f4fc0" stroke-width="5.5"/><path d="M5895 3555l222 59 238 10 194 57 129 81 205 139 73 75 195 164 132 87 147 118 124 84 128 37 134-31 71-24M5895 3555l349 93 496 158 69 17 155 15 196-45 57-17 136-54 57-13 309-154" stroke="#e03c28" stroke-width="8"/><path d="M5895 3555l516 138 377 86 447 289 286 651 65 505 16 88 89 133 51 16 106 70 340 69" stroke="#3f4fc0" stroke-width="5.5"/><path d="M5895 3555l467 123 320 112 136 32 76 48 217 272 53 25 416 107 336 30" stroke="#e03c28" stroke-width="8"/><path d="M5895 3555l909 293 656 125 261 92 58 14 358 130" stroke="#3f4fc0" stroke-width="5.5"/><path d="M5895 3555l397 93 108-32 417-61M5895 3555l177 56 326 118 85 26 276 111 241 75 154 64 516 5 122 40 44-65 40-72M5895 3555l71 19 116 47 477 114 446 79 293 45 67 17 228 34 163 57 99 61 189 96M5895 3555l231 57 121 14 414-71" stroke="#e03c28" stroke-width="8"/><path d="M5895 3555l1477 360 137 82 455 247M7981 4820l-444 798-55 7-35 45-75 56-128 242-12 2-106 107-13 47 99-98 40-47-21-58-110-91-35-8-38-19-14 36" stroke="#3f4fc0" stroke-width="5.5"/><path d="M5895 3555l63 17 59 26 452 228 159 37 76-41 330 6 145-9 297-119 54-18 93 2 33-129" stroke="#e03c28" stroke-width="8"/><path d="M5895 3555l1483 396 477 40 298-5M5895 3555l166 44 541 65 464 112 445 131 465 127M5895 3555l1088 290 185 15 29 19 445 437 1 223-836-66-20 5-130-3-769-254-61-45-31-38-80-38-36-27-15-3-9 5-24-27-10-34 4-7-20 14 10 22 47 28 37-19M5895 3555l698 182 70 34 43 41 103 164-106 102-301 207-202 115-61 63-332 211-30 57 271 75 97 662 54 121 21 29 62 70 230 139 29 14 105 33 38 2 6-5 85 15-31 23" stroke="#3f4fc0" stroke-width="5.5"/><path d="M5895 3555l379 97 72 1 226 35 180-133M5895 3555l95 25 222 149 74 45 106 42 394 318 102 70 34 17-5 7 259-102 54-50 80-92 66-89 24-49 136-204 33-64-6-23M5895 3555l363 97 61 50 165 89 20 9 60 8 458-13 188 10 287 62 104 16 243-109 48-15M5895 3555l293 83 495 195 219 30 372 106 130 8 132 32 33 4 65 38 81 0 165-16M5895 3555l235 62 100 10 95 22 89 5 208-20 126 8 679-87M5895 3555l106 28 56 23 57 37 149 70 43-21 247-82 113-21 83-34M5895 3555l64 17 258 4 68 18-4-24 4-15" stroke="#e03c28" stroke-width="8"/><path d="M5895 3555l592 138 195-87 274 16 46 174 0 24 13 30 70 11 255 162 15 18-2 55-68 135 5 56-79 171 19 77-2-7-22-3-75 17-124 17-13-2-22-25-42-22-16 16" stroke="#3f4fc0" stroke-width="5.5"/><path d="M5895 3555l74 15 250 20 602-29 16 6 181 129 75-19 84-41-15-81M5895 3555l191 49 147-49" stroke="#e03c28" stroke-width="8"/><path d="M5895 3555l479 128 505 34 43-3 468-101 375 7 51-9 317 272" stroke="#3f4fc0" stroke-width="5.5"/><path d="M5895 3555l116 31 228 24-5-55M5895 3555l112 30 401 49 147 10 86-28 143-61M5895 3555l202 54 195 67 168 85 139 55 96 15 361 29 322-94 126-21 246 47 198 66M5895 3555l242 65 108 36 237-59 123-42" stroke="#e03c28" stroke-width="8"/><path d="M5895 3555l20 5 303 18 488 287 468 56 577 217 284 10M7893 5634l-116-6-6-11-18 7-8 10-28-18-27 15M5895 3555l582 156 1059 363 177 80 112 79 283 463" stroke="#3f4fc0" stroke-width="5.5"/><path d="M5895 3555l116 30 156 72 484-20 201-27 74 7 108 3 462 50 465 75M5895 3555l456 114 90 10 479 23 119 13 146 29 176 54 148 96 131 76 87 61 80 83 66 55" stroke="#e03c28" stroke-width="8"/><path d="M5895 3555l461 123 320 108 648 455-40 112 0 68 243-268-118 71-46 71-43 160 5 23-41 62-43 128-26 3-7-8-65-26-32-4-87-108-79-158 21-73 34-44 95-20 56-30 1-18M5895 3555l880 235 218 106 67 23 438 82 458 67" stroke="#3f4fc0" stroke-width="5.5"/><path d="M5895 3555l259 72 108-8 67-26 61-16 29-22M5895 3555l389 92 58 2 74-2 359-29 384-63M5895 3555l188 64 291-33 126-22 108-8 76 14 42-15" stroke="#e03c28" stroke-width="8"/><path d="M5895 3555l404 108 164-9 291 36 265 147 541 265 424 168" stroke="#3f4fc0" stroke-width="5.5"/><path d="M5895 3555l196 63 338 25 389 103 120-20 543 33 37-1 60-16 141 10 65 12 235 27M5895 3555l111 30 97 41 189 59 110 27 88-9 96-3 204 35 137 8 36-4 440-153 55-4 131 26 227 6 75 11" stroke="#e03c28" stroke-width="8"/><path d="M5895 3555l49 0 96 13-59 205-77 345-144 25-658-41-524 243-102 23-307 28-285-5" stroke="#3f4fc0" stroke-width="5.5"/><path d="M5895 3555l79 21 84-21M5895 3555l65 17 123 1 91-1 102-17M5895 3555l518 130 96 20 63 25 247 124 48-42 125-62 79-71 82-40 122-84" stroke="#e03c28" stroke-width="8"/><path d="M5895 3555l279 74 449 384 198 285 18 52 795 505 69 65 76 102 1 25 61 154 6 87-35 170-149 244-87 62-5 18 53 45 147 34 399 150" stroke="#3f4fc0" stroke-width="5.5"/><path d="M5895 3555l130 35 221 67 271 132 83 45 36 28 28 29 71 52 40 18 398 112 422 89 287 74M5895 3555l193 55 105 59 124 48 194 97 440 236 314 152 82 24 36 1 53-36 23-7 18-16-47-103 204-244 29-29 78-48 134-112M5895 3555l58 14 511 84 36-1 9-4 111-93M5895 3555l70 19 97-19M5895 3555l57 15 369 73 318 22 103-3 102 9 422-90 96-26" stroke="#e03c28" stroke-width="8"/><path d="M5895 3555l83 22 80 1 134 25 297 39 839 661 260 181 180 68 493 65" stroke="#3f4fc0" stroke-width="5.5"/><path d="M5895 3555l296 79 45 23 85 68 136 63 196 64 222 60 146-37 330-38 126-32 236-70 89-11 139 10M5895 3555l271 71 198 31 136 3 121-1 101-10 59 0 88-18 181-48 75-28M5895 3555l56 15 80 5 104-20" stroke="#e03c28" stroke-width="8"/><path d="M5895 3555l139 37 494 417-48-5-311 9-162-77-30 67-180 135-85 46-78 444-11 121-79 188-59 161-83 152-40 37-423 476-12 44-126 190-13 10-207 91-61 9-5 4 11 59-77 130" stroke="#3f4fc0" stroke-width="5.5"/></g></g>
<path d="M394.5,355.5V621.8" stroke="#a0a0a0" stroke-width="1"/>
<path d="M394.5,621.8H783.5" stroke="#c0c0c0" stroke-width="1.2"/>
<path d="M783.5,355.5V621.8" stroke="#707070" stroke-width="1"/>
<path d="M394.5,355.0H783.5" stroke="#dcdcdc" stroke-width="0.6"/>
<path d="M395.0,355.5H783.5" stroke="#e8907f" stroke-width="1" stroke-dasharray="6.2,2"/>
<text x="397.8" y="365.9" font-size="11" fill="#e8403a">Al</text>
<text x="781.5" y="364.7" font-size="11" text-anchor="end">0.0 nm</text>
<text x="781.5" y="415.3" font-size="11" text-anchor="end">240.0 nm</text>
<text x="781.5" y="468.3" font-size="11" text-anchor="end">480.0 nm</text>
<text x="781.5" y="522.3" font-size="11" text-anchor="end">720.0 nm</text>
<text x="781.5" y="575.3" font-size="11" text-anchor="end">960.0 nm</text>
<text x="412.4" y="619.6" font-size="11">-699.0 nm</text>
<text x="492.4" y="619.6" font-size="11">-349.5 nm</text>
<text x="571.4" y="619.6" font-size="11">-0.0 nm</text>
<text x="647.4" y="619.6" font-size="11">349.5 nm</text>
<text x="728.4" y="619.6" font-size="11">699.0 nm</text>
<text x="1.8" y="34.9" font-size="13" font-weight="bold">a</text>
<text x="23.7" y="219.3" font-size="10.5" font-weight="bold" letter-spacing="0.15">Al</text>
<text x="23.7" y="233.7" font-size="10.5" font-weight="bold" letter-spacing="0.15">E<tspan font-size="8.8" dy="3.2">0</tspan><tspan dy="-3.2"> = 15 keV</tspan></text>
<text x="23.7" y="249.1" font-size="10.5" font-weight="bold" textLength="29.7" lengthAdjust="spacing">0° tilt</text>
<path d="M27.7,266.2H69.0" stroke="#000" stroke-width="1.6"/>
<path d="M18.9,266.2L33.4,261.5L31.4,266.2L33.4,270.9ZM77.8,266.2L63.3,270.9L65.3,266.2L63.3,261.5Z" fill="#000"/>
<text x="32.3" y="283.1" font-size="10.5" font-weight="bold" textLength="39.9" lengthAdjust="spacing">500 nm</text>
<path d="M196.3,1.0L196.3,35.3" stroke="#000" stroke-width="1.7"/>
<path d="M196.3,43.3L191.5,28.3L196.3,30.8L201.1,28.3Z" fill="#000"/>
<text x="394.8" y="34.9" font-size="13" font-weight="bold">b</text>
<text x="419.9" y="217.9" font-size="10.5" font-weight="bold" letter-spacing="0.15">Al</text>
<text x="419.9" y="231.8" font-size="10.5" font-weight="bold" letter-spacing="0.15">E<tspan font-size="8.8" dy="3.2">0</tspan><tspan dy="-3.2">= 15 keV</tspan></text>
<text x="419.9" y="248.3" font-size="10.5" font-weight="bold" textLength="35.4" lengthAdjust="spacing">45° tilt</text>
<path d="M408.4,261.6H485.1" stroke="#000" stroke-width="1.6"/>
<path d="M399.6,261.6L414.1,256.9L412.1,261.6L414.1,266.3ZM493.9,261.6L479.4,266.3L481.4,261.6L479.4,256.9Z" fill="#000"/>
<text x="431.4" y="275.6" font-size="10.5" font-weight="bold" textLength="40.1" lengthAdjust="spacing">500 nm</text>
<path d="M554.9,6.8L583.6,37.6" stroke="#000" stroke-width="1.7"/>
<path d="M589.0,43.5L575.3,35.8L580.5,34.3L582.3,29.2Z" fill="#000"/>
<text x="1.8" y="346.9" font-size="13" font-weight="bold">c</text>
<text x="28.3" y="537.8" font-size="10.5" font-weight="bold" letter-spacing="0.15">Al</text>
<text x="28.3" y="551.8" font-size="10.5" font-weight="bold" letter-spacing="0.15">E<tspan font-size="8.8" dy="3.2">0</tspan><tspan dy="-3.2"> = 15 keV</tspan></text>
<text x="28.3" y="568.4" font-size="10.5" font-weight="bold" textLength="35.8" lengthAdjust="spacing">60° tilt</text>
<path d="M28.8,580.9H79.1" stroke="#000" stroke-width="1.6"/>
<path d="M20.0,580.9L34.5,576.2L32.5,580.9L34.5,585.6ZM87.9,580.9L73.4,585.6L75.4,580.9L73.4,576.2Z" fill="#000"/>
<text x="36.8" y="594.5" font-size="10.5" font-weight="bold" textLength="40.2" lengthAdjust="spacing">500 nm</text>
<path d="M141.3,327.4L189.2,351.9" stroke="#000" stroke-width="1.7"/>
<path d="M196.3,355.5L180.8,352.9L185.2,349.8L185.1,344.4Z" fill="#000"/>
<text x="394.8" y="346.9" font-size="13" font-weight="bold">d</text>
<text x="441.7" y="534.6" font-size="10.5" font-weight="bold" letter-spacing="0.15">Al</text>
<text x="441.7" y="548.9" font-size="10.5" font-weight="bold" letter-spacing="0.15">E<tspan font-size="8.8" dy="3.2">0</tspan><tspan dy="-3.2"> = 15 keV</tspan></text>
<text x="441.7" y="565.5" font-size="10.5" font-weight="bold" textLength="35.5" lengthAdjust="spacing">75° tilt</text>
<path d="M408.4,579.4H511.8" stroke="#000" stroke-width="1.6"/>
<path d="M399.6,579.4L414.1,574.7L412.1,579.4L414.1,584.1ZM520.6,579.4L506.1,584.1L508.1,579.4L506.1,574.7Z" fill="#000"/>
<text x="452.9" y="591.3" font-size="10.5" font-weight="bold" textLength="40.4" lengthAdjust="spacing">500 nm</text>
<path d="M535.0,340.7L581.3,353.4" stroke="#000" stroke-width="1.7"/>
<path d="M589.0,355.5L573.3,356.2L576.9,352.2L575.8,346.9Z" fill="#000"/>
</svg>
</body></html>
